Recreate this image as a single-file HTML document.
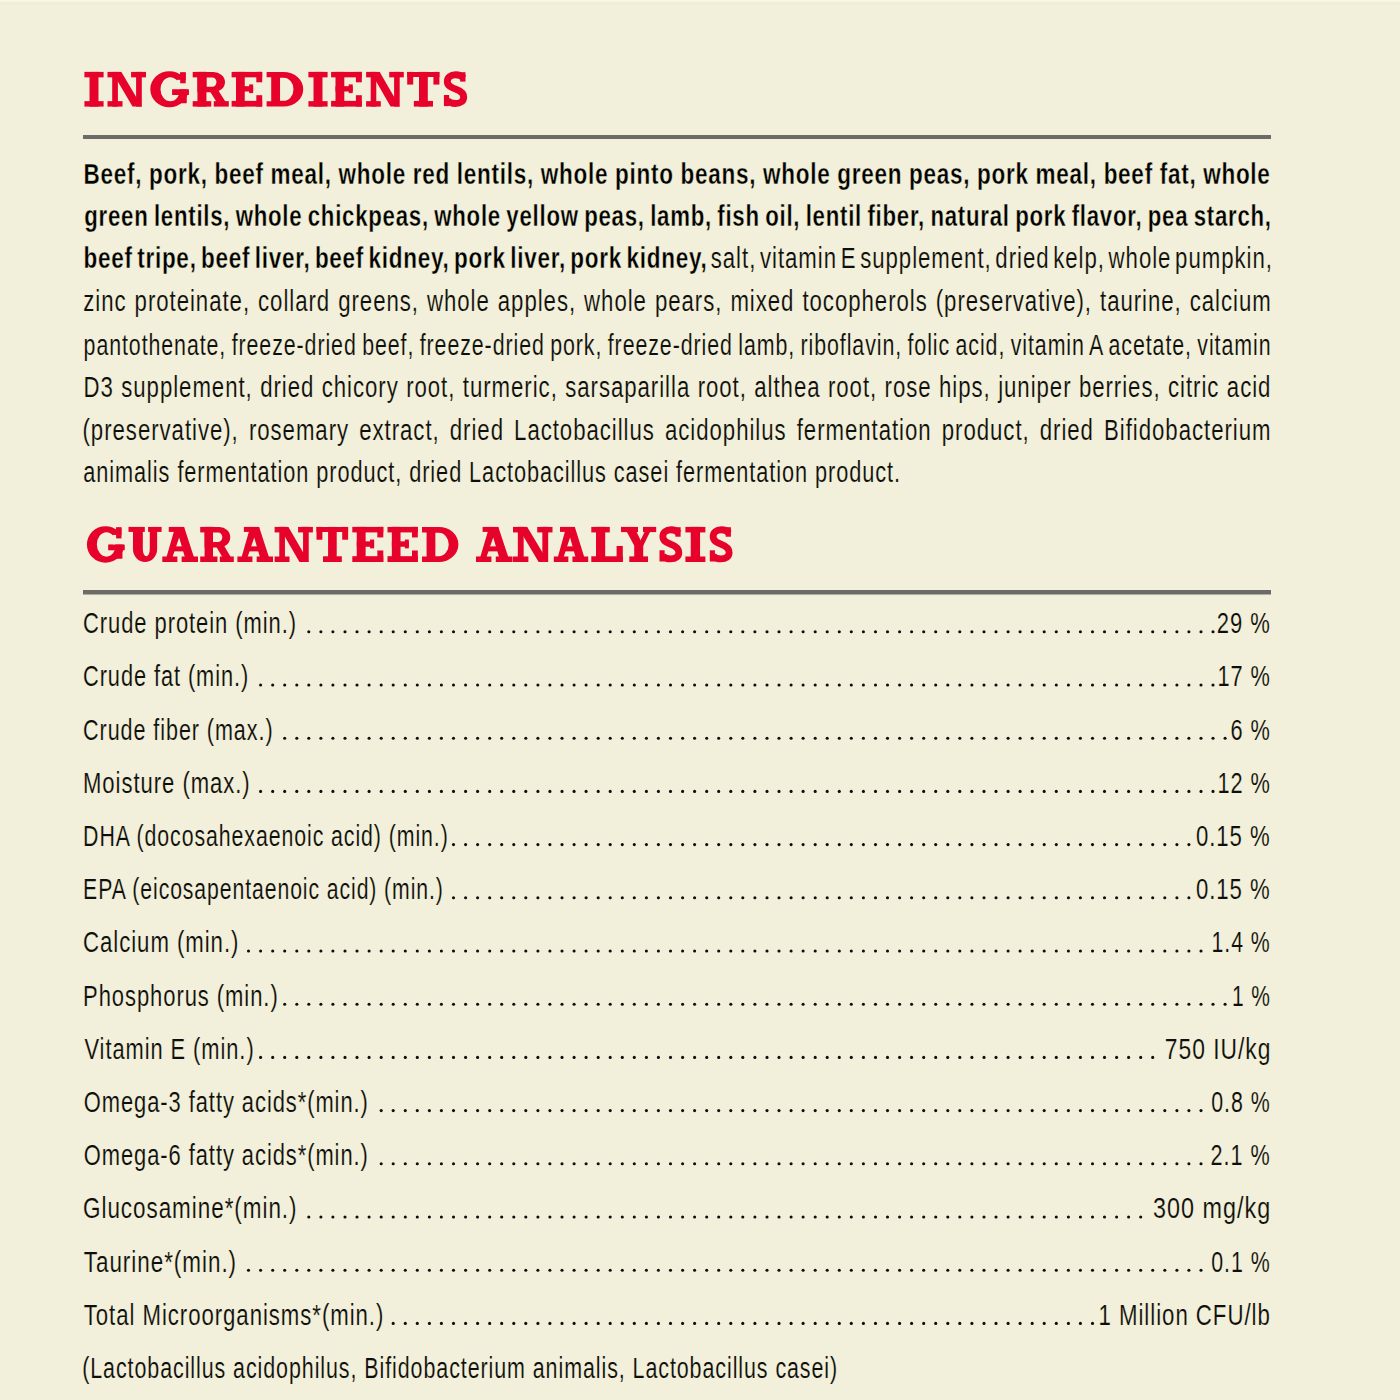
<!DOCTYPE html><html><head><meta charset="utf-8"><style>html,body{margin:0;padding:0;background:#f2f0da;width:1400px;height:1400px;overflow:hidden}svg{display:block}</style></head><body>
<svg width="1400" height="1400" viewBox="0 0 1400 1400">
<rect width="1400" height="1400" fill="#f2f0da"/>
<rect y="0" width="1400" height="1" fill="#fbf9e2"/><rect y="1" width="1400" height="1" fill="#f6f4df"/><rect y="3" width="1400" height="1" fill="#efedd9"/>
<rect x="83" y="135" width="1188" height="4" fill="#6b6b67"/>
<rect x="83" y="590" width="1188" height="4.5" fill="#6b6b67"/>
<g transform="translate(84.40 71.90) scale(0.9846 0.9914)"><path d="M0 0H19.5V5.5H0Z" fill="#e6022a"/><path d="M5.2 0H14.3V35H5.2Z" fill="#e6022a"/><path d="M0 29.5H19.5V35H0Z" fill="#e6022a"/></g>
<g transform="translate(107.50 71.90) scale(1.0000 0.9914)"><path d="M0 0H13.7V5.5H0Z" fill="#e6022a"/><path d="M4.7 0H10.4V35H4.7Z" fill="#e6022a"/><path d="M0 29.5H15.0V35H0Z" fill="#e6022a"/><path d="M4.7 0 L13.9 0 L34.3 35 L25.0 35Z" fill="#e6022a"/><path d="M23.6 0H38.5V5.5H23.6Z" fill="#e6022a"/><path d="M28.6 0H34.3V35H28.6Z" fill="#e6022a"/></g>
<g transform="translate(150.30 71.90) scale(1.0000 0.9914)"><path d="M29.9 0.5H35.4V11.5H29.9Z" fill="#e6022a"/><path d="M22.0 17.7H38.5V23.2H22.0Z" fill="#e6022a"/><path d="M29.0 17.7H36.2V31.5H29.0Z" fill="#e6022a"/><path d="M0 17.5A19 18.2 0 1 0 38 17.5A19 18.2 0 1 0 0 17.5Z M10.2 17.5A9.8 12.2 0 1 0 29.8 17.5A9.8 12.2 0 1 0 10.2 17.5Z" fill="#e6022a" fill-rule="evenodd"/><path d="M26.5 8.0H39.0V17.7H26.5Z" fill="#f2f0da"/><path d="M29.9 0.5H35.4V11.5H29.9Z" fill="#e6022a"/><path d="M22.0 17.7H38.5V23.2H22.0Z" fill="#e6022a"/><path d="M29.0 17.7H36.2V31.5H29.0Z" fill="#e6022a"/></g>
<g transform="translate(192.70 71.90) scale(1.0028 0.9914)"><path d="M0 0H13.7V5.5H0Z" fill="#e6022a"/><path d="M4.7 0H13.7V35H4.7Z" fill="#e6022a"/><path d="M0 29.5H18.5V35H0Z" fill="#e6022a"/><path d="M15.5 17.0 L24.5 17.0 L33.0 30.5 L24.0 30.5Z" fill="#e6022a"/><path d="M21.0 29.5H36.0V35H21.0Z" fill="#e6022a"/><path d="M4.7 0H20.5A11.7 10.3 0 0 1 20.5 20.6H4.7Z M13.7 5.6H19.5A4.2 4.7 0 0 1 19.5 15H13.7Z" fill="#e6022a" fill-rule="evenodd"/></g>
<g transform="translate(231.60 71.90) scale(0.9967 0.9914)"><path d="M0 0H30.7V5.5H0Z" fill="#e6022a"/><path d="M24.8 0H30.7V10.5H24.8Z" fill="#e6022a"/><path d="M4.4 0H13.2V35H4.4Z" fill="#e6022a"/><path d="M4.4 14.4H21.6V19.8H4.4Z" fill="#e6022a"/><path d="M17.6 12.6H21.6V21.4H17.6Z" fill="#e6022a"/><path d="M0 29.2H30.7V35H0Z" fill="#e6022a"/><path d="M24.8 23.5H30.7V35H24.8Z" fill="#e6022a"/></g>
<g transform="translate(266.60 71.90) scale(1.0027 0.9914)"><path d="M0 0H17A19.5 17.5 0 0 1 17 35H0V29.5H4.6V5.5H0Z M13.4 5.8H17A9.8 11.7 0 0 1 17 29.2H13.4Z" fill="#e6022a" fill-rule="evenodd"/></g>
<g transform="translate(308.40 71.90) scale(0.9846 0.9914)"><path d="M0 0H19.5V5.5H0Z" fill="#e6022a"/><path d="M5.2 0H14.3V35H5.2Z" fill="#e6022a"/><path d="M0 29.5H19.5V35H0Z" fill="#e6022a"/></g>
<g transform="translate(331.10 71.90) scale(1.0000 0.9914)"><path d="M0 0H30.7V5.5H0Z" fill="#e6022a"/><path d="M24.8 0H30.7V10.5H24.8Z" fill="#e6022a"/><path d="M4.4 0H13.2V35H4.4Z" fill="#e6022a"/><path d="M4.4 14.4H21.6V19.8H4.4Z" fill="#e6022a"/><path d="M17.6 12.6H21.6V21.4H17.6Z" fill="#e6022a"/><path d="M0 29.2H30.7V35H0Z" fill="#e6022a"/><path d="M24.8 23.5H30.7V35H24.8Z" fill="#e6022a"/></g>
<g transform="translate(366.10 71.90) scale(0.9792 0.9914)"><path d="M0 0H13.7V5.5H0Z" fill="#e6022a"/><path d="M4.7 0H10.4V35H4.7Z" fill="#e6022a"/><path d="M0 29.5H15.0V35H0Z" fill="#e6022a"/><path d="M4.7 0 L13.9 0 L34.3 35 L25.0 35Z" fill="#e6022a"/><path d="M23.6 0H38.5V5.5H23.6Z" fill="#e6022a"/><path d="M28.6 0H34.3V35H28.6Z" fill="#e6022a"/></g>
<g transform="translate(407.20 71.90) scale(1.0000 0.9914)"><path d="M0 0H32.2V5.2H0Z" fill="#e6022a"/><path d="M0 0H6.0V12.8H0Z" fill="#e6022a"/><path d="M26.2 0H32.2V12.8H26.2Z" fill="#e6022a"/><path d="M11.8 0H20.6V35H11.8Z" fill="#e6022a"/><path d="M6.6 29.3H25.8V35H6.6Z" fill="#e6022a"/></g>
<g transform="translate(443.70 71.90) scale(1.0086 0.9914)"><path d="M16.3 0.3H21.6V9.8H16.3Z" fill="#e6022a"/><path d="M0.2 23.3H5.4V34.5H0.2Z" fill="#e6022a"/><path d="M19.5 6.2C17.5 3.5 15 2.9 11.8 2.9C6.8 2.9 3.6 5.6 3.6 9.6C3.6 14.4 8.2 16.1 12.2 17.5C16.6 19.1 19.8 21.1 19.8 25.5C19.8 29.6 16.5 31.9 11.5 31.9C8.2 31.9 5.4 30.9 3.4 28.8" fill="none" stroke="#e6022a" stroke-width="6.9"/></g>
<g transform="translate(86.90 526.90) scale(0.9766 1.0029)"><path d="M29.9 0.5H35.4V11.5H29.9Z" fill="#e6022a"/><path d="M22.0 17.7H38.5V23.2H22.0Z" fill="#e6022a"/><path d="M29.0 17.7H36.2V31.5H29.0Z" fill="#e6022a"/><path d="M0 17.5A19 18.2 0 1 0 38 17.5A19 18.2 0 1 0 0 17.5Z M10.2 17.5A9.8 12.2 0 1 0 29.8 17.5A9.8 12.2 0 1 0 10.2 17.5Z" fill="#e6022a" fill-rule="evenodd"/><path d="M26.5 8.0H39.0V17.7H26.5Z" fill="#f2f0da"/><path d="M29.9 0.5H35.4V11.5H29.9Z" fill="#e6022a"/><path d="M22.0 17.7H38.5V23.2H22.0Z" fill="#e6022a"/><path d="M29.0 17.7H36.2V31.5H29.0Z" fill="#e6022a"/></g>
<g transform="translate(128.50 526.90) scale(0.9940 1.0029)"><path d="M0 0H16.4V5.0H0Z" fill="#e6022a"/><path d="M19.7 0H33.3V5.0H19.7Z" fill="#e6022a"/><path d="M4.5 0V22A12.15 13 0 0 0 28.8 22V0H21.4V22A3.5 7.3 0 0 1 14.4 22V0Z" fill="#e6022a" fill-rule="evenodd"/></g>
<g transform="translate(162.30 526.90) scale(0.9917 1.0029)"><path d="M6.5 0H22.0V5.0H6.5Z" fill="#e6022a"/><path d="M2.8 35 L13.0 0 L22.0 0 L33.5 35 L24.2 35 L17.0 10.5 L8.6 35Z" fill="#e6022a"/><path d="M9.5 19.4H27.5V24.4H9.5Z" fill="#e6022a"/><path d="M0 29.5H15.2V35H0Z" fill="#e6022a"/><path d="M19.5 29.5H36.0V35H19.5Z" fill="#e6022a"/></g>
<g transform="translate(200.20 526.90) scale(0.9333 1.0029)"><path d="M0 0H13.7V5.5H0Z" fill="#e6022a"/><path d="M4.7 0H13.7V35H4.7Z" fill="#e6022a"/><path d="M0 29.5H18.5V35H0Z" fill="#e6022a"/><path d="M15.5 17.0 L24.5 17.0 L33.0 30.5 L24.0 30.5Z" fill="#e6022a"/><path d="M21.0 29.5H36.0V35H21.0Z" fill="#e6022a"/><path d="M4.7 0H20.5A11.7 10.3 0 0 1 20.5 20.6H4.7Z M13.7 5.6H19.5A4.2 4.7 0 0 1 19.5 15H13.7Z" fill="#e6022a" fill-rule="evenodd"/></g>
<g transform="translate(237.40 526.90) scale(0.9889 1.0029)"><path d="M6.5 0H22.0V5.0H6.5Z" fill="#e6022a"/><path d="M2.8 35 L13.0 0 L22.0 0 L33.5 35 L24.2 35 L17.0 10.5 L8.6 35Z" fill="#e6022a"/><path d="M9.5 19.4H27.5V24.4H9.5Z" fill="#e6022a"/><path d="M0 29.5H15.2V35H0Z" fill="#e6022a"/><path d="M19.5 29.5H36.0V35H19.5Z" fill="#e6022a"/></g>
<g transform="translate(274.60 526.90) scale(0.9948 1.0029)"><path d="M0 0H13.7V5.5H0Z" fill="#e6022a"/><path d="M4.7 0H10.4V35H4.7Z" fill="#e6022a"/><path d="M0 29.5H15.0V35H0Z" fill="#e6022a"/><path d="M4.7 0 L13.9 0 L34.3 35 L25.0 35Z" fill="#e6022a"/><path d="M23.6 0H38.5V5.5H23.6Z" fill="#e6022a"/><path d="M28.6 0H34.3V35H28.6Z" fill="#e6022a"/></g>
<g transform="translate(316.50 526.90) scale(0.9814 1.0029)"><path d="M0 0H32.2V5.2H0Z" fill="#e6022a"/><path d="M0 0H6.0V12.8H0Z" fill="#e6022a"/><path d="M26.2 0H32.2V12.8H26.2Z" fill="#e6022a"/><path d="M11.8 0H20.6V35H11.8Z" fill="#e6022a"/><path d="M6.6 29.3H25.8V35H6.6Z" fill="#e6022a"/></g>
<g transform="translate(352.30 526.90) scale(1.0098 1.0029)"><path d="M0 0H30.7V5.5H0Z" fill="#e6022a"/><path d="M24.8 0H30.7V10.5H24.8Z" fill="#e6022a"/><path d="M4.4 0H13.2V35H4.4Z" fill="#e6022a"/><path d="M4.4 14.4H21.6V19.8H4.4Z" fill="#e6022a"/><path d="M17.6 12.6H21.6V21.4H17.6Z" fill="#e6022a"/><path d="M0 29.2H30.7V35H0Z" fill="#e6022a"/><path d="M24.8 23.5H30.7V35H24.8Z" fill="#e6022a"/></g>
<g transform="translate(387.50 526.90) scale(0.9870 1.0029)"><path d="M0 0H30.7V5.5H0Z" fill="#e6022a"/><path d="M24.8 0H30.7V10.5H24.8Z" fill="#e6022a"/><path d="M4.4 0H13.2V35H4.4Z" fill="#e6022a"/><path d="M4.4 14.4H21.6V19.8H4.4Z" fill="#e6022a"/><path d="M17.6 12.6H21.6V21.4H17.6Z" fill="#e6022a"/><path d="M0 29.2H30.7V35H0Z" fill="#e6022a"/><path d="M24.8 23.5H30.7V35H24.8Z" fill="#e6022a"/></g>
<g transform="translate(422.00 526.90) scale(0.9973 1.0029)"><path d="M0 0H17A19.5 17.5 0 0 1 17 35H0V29.5H4.6V5.5H0Z M13.4 5.8H17A9.8 11.7 0 0 1 17 29.2H13.4Z" fill="#e6022a" fill-rule="evenodd"/></g>
<g transform="translate(476.00 526.90) scale(1.0139 1.0029)"><path d="M6.5 0H22.0V5.0H6.5Z" fill="#e6022a"/><path d="M2.8 35 L13.0 0 L22.0 0 L33.5 35 L24.2 35 L17.0 10.5 L8.6 35Z" fill="#e6022a"/><path d="M9.5 19.4H27.5V24.4H9.5Z" fill="#e6022a"/><path d="M0 29.5H15.2V35H0Z" fill="#e6022a"/><path d="M19.5 29.5H36.0V35H19.5Z" fill="#e6022a"/></g>
<g transform="translate(513.00 526.90) scale(1.0260 1.0029)"><path d="M0 0H13.7V5.5H0Z" fill="#e6022a"/><path d="M4.7 0H10.4V35H4.7Z" fill="#e6022a"/><path d="M0 29.5H15.0V35H0Z" fill="#e6022a"/><path d="M4.7 0 L13.9 0 L34.3 35 L25.0 35Z" fill="#e6022a"/><path d="M23.6 0H38.5V5.5H23.6Z" fill="#e6022a"/><path d="M28.6 0H34.3V35H28.6Z" fill="#e6022a"/></g>
<g transform="translate(553.80 526.90) scale(0.9556 1.0029)"><path d="M6.5 0H22.0V5.0H6.5Z" fill="#e6022a"/><path d="M2.8 35 L13.0 0 L22.0 0 L33.5 35 L24.2 35 L17.0 10.5 L8.6 35Z" fill="#e6022a"/><path d="M9.5 19.4H27.5V24.4H9.5Z" fill="#e6022a"/><path d="M0 29.5H15.2V35H0Z" fill="#e6022a"/><path d="M19.5 29.5H36.0V35H19.5Z" fill="#e6022a"/></g>
<g transform="translate(591.30 526.90) scale(1.0000 1.0029)"><path d="M0 0H18.5V5.5H0Z" fill="#e6022a"/><path d="M4.7 0H13.9V35H4.7Z" fill="#e6022a"/><path d="M0 29.3H31.5V35H0Z" fill="#e6022a"/><path d="M25.3 19.0H31.5V35H25.3Z" fill="#e6022a"/></g>
<g transform="translate(621.00 526.90) scale(1.0000 1.0029)"><path d="M0 0H17.0V5.2H0Z" fill="#e6022a"/><path d="M22.0 0H35.2V5.2H22.0Z" fill="#e6022a"/><path d="M3.2 0 L13.2 0 L22.4 19.0 L13.4 19.0Z" fill="#e6022a"/><path d="M26.0 0 L31.5 0 L21.8 19.5 L16.5 19.5Z" fill="#e6022a"/><path d="M13.2 17.0H22.2V35H13.2Z" fill="#e6022a"/><path d="M8.3 29.4H27.0V35H8.3Z" fill="#e6022a"/></g>
<g transform="translate(659.30 526.90) scale(0.9871 1.0029)"><path d="M16.3 0.3H21.6V9.8H16.3Z" fill="#e6022a"/><path d="M0.2 23.3H5.4V34.5H0.2Z" fill="#e6022a"/><path d="M19.5 6.2C17.5 3.5 15 2.9 11.8 2.9C6.8 2.9 3.6 5.6 3.6 9.6C3.6 14.4 8.2 16.1 12.2 17.5C16.6 19.1 19.8 21.1 19.8 25.5C19.8 29.6 16.5 31.9 11.5 31.9C8.2 31.9 5.4 30.9 3.4 28.8" fill="none" stroke="#e6022a" stroke-width="6.9"/></g>
<g transform="translate(685.40 526.90) scale(1.0256 1.0029)"><path d="M0 0H19.5V5.5H0Z" fill="#e6022a"/><path d="M5.2 0H14.3V35H5.2Z" fill="#e6022a"/><path d="M0 29.5H19.5V35H0Z" fill="#e6022a"/></g>
<g transform="translate(709.60 526.90) scale(0.9871 1.0029)"><path d="M16.3 0.3H21.6V9.8H16.3Z" fill="#e6022a"/><path d="M0.2 23.3H5.4V34.5H0.2Z" fill="#e6022a"/><path d="M19.5 6.2C17.5 3.5 15 2.9 11.8 2.9C6.8 2.9 3.6 5.6 3.6 9.6C3.6 14.4 8.2 16.1 12.2 17.5C16.6 19.1 19.8 21.1 19.8 25.5C19.8 29.6 16.5 31.9 11.5 31.9C8.2 31.9 5.4 30.9 3.4 28.8" fill="none" stroke="#e6022a" stroke-width="6.9"/></g>
<text transform="translate(83.50 183.60) scale(0.7500 1)" style="font-family:'Liberation Sans', sans-serif;font-weight:bold;font-size:30px;white-space:pre;letter-spacing:1.0px;word-spacing:-0.29px" fill="#000000" stroke="#f2f0da" stroke-width="0.35">Beef, pork, beef meal, whole red lentils, whole pinto beans, whole green peas, pork meal, beef fat, whole</text>
<text transform="translate(84.26 225.80) scale(0.7411 1)" style="font-family:'Liberation Sans', sans-serif;font-weight:bold;font-size:30px;white-space:pre;letter-spacing:1.0px;word-spacing:-2.00px" fill="#000000" stroke="#f2f0da" stroke-width="0.35">green lentils, whole chickpeas, whole yellow peas, lamb, fish oil, lentil fiber, natural pork flavor, pea starch,</text>
<text transform="translate(83.50 268.40) scale(0.7500 1)" style="font-family:'Liberation Sans', sans-serif;font-weight:bold;font-size:30px;white-space:pre;letter-spacing:1.0px;word-spacing:-3.44px" fill="#000000" stroke="#f2f0da" stroke-width="0.35">beef tripe, beef liver, beef kidney, pork liver, pork kidney,</text>
<text transform="translate(710.76 268.40) scale(0.7399 1)" style="font-family:'Liberation Sans', sans-serif;font-weight:normal;font-size:30px;white-space:pre;letter-spacing:1.3px;word-spacing:-4.60px" fill="#0e0e0c" stroke="#f2f0da" stroke-width="0.15">salt, vitamin E supplement, dried kelp, whole pumpkin,</text>
<text transform="translate(83.26 311.40) scale(0.7400 1)" style="font-family:'Liberation Sans', sans-serif;font-weight:normal;font-size:30px;white-space:pre;letter-spacing:1.3px;word-spacing:1.23px" fill="#0e0e0c" stroke="#f2f0da" stroke-width="0.15">zinc proteinate, collard greens, whole apples, whole pears, mixed tocopherols (preservative), taurine, calcium</text>
<text transform="translate(83.58 354.60) scale(0.7121 1)" style="font-family:'Liberation Sans', sans-serif;font-weight:normal;font-size:30px;white-space:pre;letter-spacing:1.3px;word-spacing:-2.00px" fill="#0e0e0c" stroke="#f2f0da" stroke-width="0.15">pantothenate, freeze-dried beef, freeze-dried pork, freeze-dried lamb, riboflavin, folic acid, vitamin A acetate, vitamin</text>
<text transform="translate(83.52 397.40) scale(0.7400 1)" style="font-family:'Liberation Sans', sans-serif;font-weight:normal;font-size:30px;white-space:pre;letter-spacing:1.3px;word-spacing:0.42px" fill="#0e0e0c" stroke="#f2f0da" stroke-width="0.15">D3 supplement, dried chicory root, turmeric, sarsaparilla root, althea root, rose hips, juniper berries, citric acid</text>
<text transform="translate(82.52 439.60) scale(0.7400 1)" style="font-family:'Liberation Sans', sans-serif;font-weight:normal;font-size:30px;white-space:pre;letter-spacing:1.3px;word-spacing:4.08px" fill="#0e0e0c" stroke="#f2f0da" stroke-width="0.15">(preservative), rosemary extract, dried Lactobacillus acidophilus fermentation product, dried Bifidobacterium</text>
<text transform="translate(83.28 481.90) scale(0.7238 1)" style="font-family:'Liberation Sans', sans-serif;font-weight:normal;font-size:30px;white-space:pre;letter-spacing:1.3px" fill="#0e0e0c" stroke="#f2f0da" stroke-width="0.15">animalis fermentation product, dried Lactobacillus casei fermentation product.</text>
<text transform="translate(83.04 633.10) scale(0.7309 1)" style="font-family:'Liberation Sans', sans-serif;font-weight:normal;font-size:30px;white-space:pre;letter-spacing:1.3px" fill="#0e0e0c" stroke="#f2f0da" stroke-width="0.15">Crude protein (min.)</text>
<text transform="translate(1216.83 633.10) scale(0.7348 1)" style="font-family:'Liberation Sans', sans-serif;font-weight:normal;font-size:30px;white-space:pre;letter-spacing:1.3px" fill="#0e0e0c" stroke="#f2f0da" stroke-width="0.15">29 %</text>
<text transform="translate(83.05 686.30) scale(0.7250 1)" style="font-family:'Liberation Sans', sans-serif;font-weight:normal;font-size:30px;white-space:pre;letter-spacing:1.3px" fill="#0e0e0c" stroke="#f2f0da" stroke-width="0.15">Crude fat (min.)</text>
<text transform="translate(1217.45 686.30) scale(0.7261 1)" style="font-family:'Liberation Sans', sans-serif;font-weight:normal;font-size:30px;white-space:pre;letter-spacing:1.3px" fill="#0e0e0c" stroke="#f2f0da" stroke-width="0.15">17 %</text>
<text transform="translate(83.06 739.50) scale(0.7188 1)" style="font-family:'Liberation Sans', sans-serif;font-weight:normal;font-size:30px;white-space:pre;letter-spacing:1.3px" fill="#0e0e0c" stroke="#f2f0da" stroke-width="0.15">Crude fiber (max.)</text>
<text transform="translate(1230.55 739.50) scale(0.7255 1)" style="font-family:'Liberation Sans', sans-serif;font-weight:normal;font-size:30px;white-space:pre;letter-spacing:1.3px" fill="#0e0e0c" stroke="#f2f0da" stroke-width="0.15">6 %</text>
<text transform="translate(83.03 792.70) scale(0.7359 1)" style="font-family:'Liberation Sans', sans-serif;font-weight:normal;font-size:30px;white-space:pre;letter-spacing:1.3px" fill="#0e0e0c" stroke="#f2f0da" stroke-width="0.15">Moisture (max.)</text>
<text transform="translate(1217.45 792.70) scale(0.7261 1)" style="font-family:'Liberation Sans', sans-serif;font-weight:normal;font-size:30px;white-space:pre;letter-spacing:1.3px" fill="#0e0e0c" stroke="#f2f0da" stroke-width="0.15">12 %</text>
<text transform="translate(83.08 845.90) scale(0.7104 1)" style="font-family:'Liberation Sans', sans-serif;font-weight:normal;font-size:30px;white-space:pre;letter-spacing:1.3px" fill="#0e0e0c" stroke="#f2f0da" stroke-width="0.15">DHA (docosahexaenoic acid) (min.)</text>
<text transform="translate(1195.96 845.90) scale(0.7378 1)" style="font-family:'Liberation Sans', sans-serif;font-weight:normal;font-size:30px;white-space:pre;letter-spacing:1.3px" fill="#0e0e0c" stroke="#f2f0da" stroke-width="0.15">0.15 %</text>
<text transform="translate(83.09 899.10) scale(0.7067 1)" style="font-family:'Liberation Sans', sans-serif;font-weight:normal;font-size:30px;white-space:pre;letter-spacing:1.3px" fill="#0e0e0c" stroke="#f2f0da" stroke-width="0.15">EPA (eicosapentaenoic acid) (min.)</text>
<text transform="translate(1195.96 899.10) scale(0.7378 1)" style="font-family:'Liberation Sans', sans-serif;font-weight:normal;font-size:30px;white-space:pre;letter-spacing:1.3px" fill="#0e0e0c" stroke="#f2f0da" stroke-width="0.15">0.15 %</text>
<text transform="translate(83.02 952.30) scale(0.7393 1)" style="font-family:'Liberation Sans', sans-serif;font-weight:normal;font-size:30px;white-space:pre;letter-spacing:1.3px" fill="#0e0e0c" stroke="#f2f0da" stroke-width="0.15">Calcium (min.)</text>
<text transform="translate(1211.58 952.30) scale(0.7089 1)" style="font-family:'Liberation Sans', sans-serif;font-weight:normal;font-size:30px;white-space:pre;letter-spacing:1.3px" fill="#0e0e0c" stroke="#f2f0da" stroke-width="0.15">1.4 %</text>
<text transform="translate(83.04 1005.50) scale(0.7324 1)" style="font-family:'Liberation Sans', sans-serif;font-weight:normal;font-size:30px;white-space:pre;letter-spacing:1.3px" fill="#0e0e0c" stroke="#f2f0da" stroke-width="0.15">Phosphorus (min.)</text>
<text transform="translate(1231.90 1005.50) scale(0.7000 1)" style="font-family:'Liberation Sans', sans-serif;font-weight:normal;font-size:30px;white-space:pre;letter-spacing:1.3px" fill="#0e0e0c" stroke="#f2f0da" stroke-width="0.15">1 %</text>
<text transform="translate(84.50 1058.70) scale(0.7283 1)" style="font-family:'Liberation Sans', sans-serif;font-weight:normal;font-size:30px;white-space:pre;letter-spacing:1.3px" fill="#0e0e0c" stroke="#f2f0da" stroke-width="0.15">Vitamin E (min.)</text>
<text transform="translate(1164.78 1058.70) scale(0.7607 1)" style="font-family:'Liberation Sans', sans-serif;font-weight:normal;font-size:30px;white-space:pre;letter-spacing:1.3px" fill="#0e0e0c" stroke="#f2f0da" stroke-width="0.15">750 IU/kg</text>
<text transform="translate(83.77 1111.90) scale(0.7303 1)" style="font-family:'Liberation Sans', sans-serif;font-weight:normal;font-size:30px;white-space:pre;letter-spacing:1.3px" fill="#0e0e0c" stroke="#f2f0da" stroke-width="0.15">Omega-3 fatty acids*(min.)</text>
<text transform="translate(1211.29 1111.90) scale(0.7125 1)" style="font-family:'Liberation Sans', sans-serif;font-weight:normal;font-size:30px;white-space:pre;letter-spacing:1.3px" fill="#0e0e0c" stroke="#f2f0da" stroke-width="0.15">0.8 %</text>
<text transform="translate(83.77 1165.10) scale(0.7303 1)" style="font-family:'Liberation Sans', sans-serif;font-weight:normal;font-size:30px;white-space:pre;letter-spacing:1.3px" fill="#0e0e0c" stroke="#f2f0da" stroke-width="0.15">Omega-6 fatty acids*(min.)</text>
<text transform="translate(1210.56 1165.10) scale(0.7215 1)" style="font-family:'Liberation Sans', sans-serif;font-weight:normal;font-size:30px;white-space:pre;letter-spacing:1.3px" fill="#0e0e0c" stroke="#f2f0da" stroke-width="0.15">2.1 %</text>
<text transform="translate(83.00 1218.30) scale(0.7482 1)" style="font-family:'Liberation Sans', sans-serif;font-weight:normal;font-size:30px;white-space:pre;letter-spacing:1.3px" fill="#0e0e0c" stroke="#f2f0da" stroke-width="0.15">Glucosamine*(min.)</text>
<text transform="translate(1153.02 1218.30) scale(0.7784 1)" style="font-family:'Liberation Sans', sans-serif;font-weight:normal;font-size:30px;white-space:pre;letter-spacing:1.3px" fill="#0e0e0c" stroke="#f2f0da" stroke-width="0.15">300 mg/kg</text>
<text transform="translate(83.75 1271.50) scale(0.7483 1)" style="font-family:'Liberation Sans', sans-serif;font-weight:normal;font-size:30px;white-space:pre;letter-spacing:1.3px" fill="#0e0e0c" stroke="#f2f0da" stroke-width="0.15">Taurine*(min.)</text>
<text transform="translate(1211.29 1271.50) scale(0.7125 1)" style="font-family:'Liberation Sans', sans-serif;font-weight:normal;font-size:30px;white-space:pre;letter-spacing:1.3px" fill="#0e0e0c" stroke="#f2f0da" stroke-width="0.15">0.1 %</text>
<text transform="translate(83.76 1324.70) scale(0.7392 1)" style="font-family:'Liberation Sans', sans-serif;font-weight:normal;font-size:30px;white-space:pre;letter-spacing:1.3px" fill="#0e0e0c" stroke="#f2f0da" stroke-width="0.15">Total Microorganisms*(min.)</text>
<text transform="translate(1098.52 1324.70) scale(0.7412 1)" style="font-family:'Liberation Sans', sans-serif;font-weight:normal;font-size:30px;white-space:pre;letter-spacing:1.3px" fill="#0e0e0c" stroke="#f2f0da" stroke-width="0.15">1 Million CFU/lb</text>
<text transform="translate(82.17 1377.90) scale(0.7145 1)" style="font-family:'Liberation Sans', sans-serif;font-weight:normal;font-size:30px;white-space:pre;letter-spacing:1.3px" fill="#0e0e0c" stroke="#f2f0da" stroke-width="0.15">(Lactobacillus acidophilus, Bifidobacterium animalis, Lactobacillus casei)</text>
<circle cx="308.8" cy="631.8" r="1.55" fill="#0e0e0c"/>
<circle cx="320.9" cy="631.8" r="1.55" fill="#0e0e0c"/>
<circle cx="332.9" cy="631.8" r="1.55" fill="#0e0e0c"/>
<circle cx="345.0" cy="631.8" r="1.55" fill="#0e0e0c"/>
<circle cx="357.0" cy="631.8" r="1.55" fill="#0e0e0c"/>
<circle cx="369.1" cy="631.8" r="1.55" fill="#0e0e0c"/>
<circle cx="381.2" cy="631.8" r="1.55" fill="#0e0e0c"/>
<circle cx="393.2" cy="631.8" r="1.55" fill="#0e0e0c"/>
<circle cx="405.3" cy="631.8" r="1.55" fill="#0e0e0c"/>
<circle cx="417.3" cy="631.8" r="1.55" fill="#0e0e0c"/>
<circle cx="429.4" cy="631.8" r="1.55" fill="#0e0e0c"/>
<circle cx="441.4" cy="631.8" r="1.55" fill="#0e0e0c"/>
<circle cx="453.5" cy="631.8" r="1.55" fill="#0e0e0c"/>
<circle cx="465.6" cy="631.8" r="1.55" fill="#0e0e0c"/>
<circle cx="477.6" cy="631.8" r="1.55" fill="#0e0e0c"/>
<circle cx="489.7" cy="631.8" r="1.55" fill="#0e0e0c"/>
<circle cx="501.7" cy="631.8" r="1.55" fill="#0e0e0c"/>
<circle cx="513.8" cy="631.8" r="1.55" fill="#0e0e0c"/>
<circle cx="525.8" cy="631.8" r="1.55" fill="#0e0e0c"/>
<circle cx="537.9" cy="631.8" r="1.55" fill="#0e0e0c"/>
<circle cx="549.9" cy="631.8" r="1.55" fill="#0e0e0c"/>
<circle cx="562.0" cy="631.8" r="1.55" fill="#0e0e0c"/>
<circle cx="574.1" cy="631.8" r="1.55" fill="#0e0e0c"/>
<circle cx="586.1" cy="631.8" r="1.55" fill="#0e0e0c"/>
<circle cx="598.2" cy="631.8" r="1.55" fill="#0e0e0c"/>
<circle cx="610.2" cy="631.8" r="1.55" fill="#0e0e0c"/>
<circle cx="622.3" cy="631.8" r="1.55" fill="#0e0e0c"/>
<circle cx="634.3" cy="631.8" r="1.55" fill="#0e0e0c"/>
<circle cx="646.4" cy="631.8" r="1.55" fill="#0e0e0c"/>
<circle cx="658.4" cy="631.8" r="1.55" fill="#0e0e0c"/>
<circle cx="670.5" cy="631.8" r="1.55" fill="#0e0e0c"/>
<circle cx="682.6" cy="631.8" r="1.55" fill="#0e0e0c"/>
<circle cx="694.6" cy="631.8" r="1.55" fill="#0e0e0c"/>
<circle cx="706.7" cy="631.8" r="1.55" fill="#0e0e0c"/>
<circle cx="718.7" cy="631.8" r="1.55" fill="#0e0e0c"/>
<circle cx="730.8" cy="631.8" r="1.55" fill="#0e0e0c"/>
<circle cx="742.8" cy="631.8" r="1.55" fill="#0e0e0c"/>
<circle cx="754.9" cy="631.8" r="1.55" fill="#0e0e0c"/>
<circle cx="767.0" cy="631.8" r="1.55" fill="#0e0e0c"/>
<circle cx="779.0" cy="631.8" r="1.55" fill="#0e0e0c"/>
<circle cx="791.1" cy="631.8" r="1.55" fill="#0e0e0c"/>
<circle cx="803.1" cy="631.8" r="1.55" fill="#0e0e0c"/>
<circle cx="815.2" cy="631.8" r="1.55" fill="#0e0e0c"/>
<circle cx="827.2" cy="631.8" r="1.55" fill="#0e0e0c"/>
<circle cx="839.3" cy="631.8" r="1.55" fill="#0e0e0c"/>
<circle cx="851.3" cy="631.8" r="1.55" fill="#0e0e0c"/>
<circle cx="863.4" cy="631.8" r="1.55" fill="#0e0e0c"/>
<circle cx="875.5" cy="631.8" r="1.55" fill="#0e0e0c"/>
<circle cx="887.5" cy="631.8" r="1.55" fill="#0e0e0c"/>
<circle cx="899.6" cy="631.8" r="1.55" fill="#0e0e0c"/>
<circle cx="911.6" cy="631.8" r="1.55" fill="#0e0e0c"/>
<circle cx="923.7" cy="631.8" r="1.55" fill="#0e0e0c"/>
<circle cx="935.7" cy="631.8" r="1.55" fill="#0e0e0c"/>
<circle cx="947.8" cy="631.8" r="1.55" fill="#0e0e0c"/>
<circle cx="959.8" cy="631.8" r="1.55" fill="#0e0e0c"/>
<circle cx="971.9" cy="631.8" r="1.55" fill="#0e0e0c"/>
<circle cx="984.0" cy="631.8" r="1.55" fill="#0e0e0c"/>
<circle cx="996.0" cy="631.8" r="1.55" fill="#0e0e0c"/>
<circle cx="1008.1" cy="631.8" r="1.55" fill="#0e0e0c"/>
<circle cx="1020.1" cy="631.8" r="1.55" fill="#0e0e0c"/>
<circle cx="1032.2" cy="631.8" r="1.55" fill="#0e0e0c"/>
<circle cx="1044.2" cy="631.8" r="1.55" fill="#0e0e0c"/>
<circle cx="1056.3" cy="631.8" r="1.55" fill="#0e0e0c"/>
<circle cx="1068.4" cy="631.8" r="1.55" fill="#0e0e0c"/>
<circle cx="1080.4" cy="631.8" r="1.55" fill="#0e0e0c"/>
<circle cx="1092.5" cy="631.8" r="1.55" fill="#0e0e0c"/>
<circle cx="1104.5" cy="631.8" r="1.55" fill="#0e0e0c"/>
<circle cx="1116.6" cy="631.8" r="1.55" fill="#0e0e0c"/>
<circle cx="1128.6" cy="631.8" r="1.55" fill="#0e0e0c"/>
<circle cx="1140.7" cy="631.8" r="1.55" fill="#0e0e0c"/>
<circle cx="1152.7" cy="631.8" r="1.55" fill="#0e0e0c"/>
<circle cx="1164.8" cy="631.8" r="1.55" fill="#0e0e0c"/>
<circle cx="1176.9" cy="631.8" r="1.55" fill="#0e0e0c"/>
<circle cx="1188.9" cy="631.8" r="1.55" fill="#0e0e0c"/>
<circle cx="1201.0" cy="631.8" r="1.55" fill="#0e0e0c"/>
<circle cx="1213.0" cy="631.8" r="1.55" fill="#0e0e0c"/>
<circle cx="260.6" cy="685.0" r="1.55" fill="#0e0e0c"/>
<circle cx="272.7" cy="685.0" r="1.55" fill="#0e0e0c"/>
<circle cx="284.7" cy="685.0" r="1.55" fill="#0e0e0c"/>
<circle cx="296.8" cy="685.0" r="1.55" fill="#0e0e0c"/>
<circle cx="308.8" cy="685.0" r="1.55" fill="#0e0e0c"/>
<circle cx="320.9" cy="685.0" r="1.55" fill="#0e0e0c"/>
<circle cx="332.9" cy="685.0" r="1.55" fill="#0e0e0c"/>
<circle cx="345.0" cy="685.0" r="1.55" fill="#0e0e0c"/>
<circle cx="357.0" cy="685.0" r="1.55" fill="#0e0e0c"/>
<circle cx="369.1" cy="685.0" r="1.55" fill="#0e0e0c"/>
<circle cx="381.2" cy="685.0" r="1.55" fill="#0e0e0c"/>
<circle cx="393.2" cy="685.0" r="1.55" fill="#0e0e0c"/>
<circle cx="405.3" cy="685.0" r="1.55" fill="#0e0e0c"/>
<circle cx="417.3" cy="685.0" r="1.55" fill="#0e0e0c"/>
<circle cx="429.4" cy="685.0" r="1.55" fill="#0e0e0c"/>
<circle cx="441.4" cy="685.0" r="1.55" fill="#0e0e0c"/>
<circle cx="453.5" cy="685.0" r="1.55" fill="#0e0e0c"/>
<circle cx="465.6" cy="685.0" r="1.55" fill="#0e0e0c"/>
<circle cx="477.6" cy="685.0" r="1.55" fill="#0e0e0c"/>
<circle cx="489.7" cy="685.0" r="1.55" fill="#0e0e0c"/>
<circle cx="501.7" cy="685.0" r="1.55" fill="#0e0e0c"/>
<circle cx="513.8" cy="685.0" r="1.55" fill="#0e0e0c"/>
<circle cx="525.8" cy="685.0" r="1.55" fill="#0e0e0c"/>
<circle cx="537.9" cy="685.0" r="1.55" fill="#0e0e0c"/>
<circle cx="549.9" cy="685.0" r="1.55" fill="#0e0e0c"/>
<circle cx="562.0" cy="685.0" r="1.55" fill="#0e0e0c"/>
<circle cx="574.1" cy="685.0" r="1.55" fill="#0e0e0c"/>
<circle cx="586.1" cy="685.0" r="1.55" fill="#0e0e0c"/>
<circle cx="598.2" cy="685.0" r="1.55" fill="#0e0e0c"/>
<circle cx="610.2" cy="685.0" r="1.55" fill="#0e0e0c"/>
<circle cx="622.3" cy="685.0" r="1.55" fill="#0e0e0c"/>
<circle cx="634.3" cy="685.0" r="1.55" fill="#0e0e0c"/>
<circle cx="646.4" cy="685.0" r="1.55" fill="#0e0e0c"/>
<circle cx="658.4" cy="685.0" r="1.55" fill="#0e0e0c"/>
<circle cx="670.5" cy="685.0" r="1.55" fill="#0e0e0c"/>
<circle cx="682.6" cy="685.0" r="1.55" fill="#0e0e0c"/>
<circle cx="694.6" cy="685.0" r="1.55" fill="#0e0e0c"/>
<circle cx="706.7" cy="685.0" r="1.55" fill="#0e0e0c"/>
<circle cx="718.7" cy="685.0" r="1.55" fill="#0e0e0c"/>
<circle cx="730.8" cy="685.0" r="1.55" fill="#0e0e0c"/>
<circle cx="742.8" cy="685.0" r="1.55" fill="#0e0e0c"/>
<circle cx="754.9" cy="685.0" r="1.55" fill="#0e0e0c"/>
<circle cx="767.0" cy="685.0" r="1.55" fill="#0e0e0c"/>
<circle cx="779.0" cy="685.0" r="1.55" fill="#0e0e0c"/>
<circle cx="791.1" cy="685.0" r="1.55" fill="#0e0e0c"/>
<circle cx="803.1" cy="685.0" r="1.55" fill="#0e0e0c"/>
<circle cx="815.2" cy="685.0" r="1.55" fill="#0e0e0c"/>
<circle cx="827.2" cy="685.0" r="1.55" fill="#0e0e0c"/>
<circle cx="839.3" cy="685.0" r="1.55" fill="#0e0e0c"/>
<circle cx="851.3" cy="685.0" r="1.55" fill="#0e0e0c"/>
<circle cx="863.4" cy="685.0" r="1.55" fill="#0e0e0c"/>
<circle cx="875.5" cy="685.0" r="1.55" fill="#0e0e0c"/>
<circle cx="887.5" cy="685.0" r="1.55" fill="#0e0e0c"/>
<circle cx="899.6" cy="685.0" r="1.55" fill="#0e0e0c"/>
<circle cx="911.6" cy="685.0" r="1.55" fill="#0e0e0c"/>
<circle cx="923.7" cy="685.0" r="1.55" fill="#0e0e0c"/>
<circle cx="935.7" cy="685.0" r="1.55" fill="#0e0e0c"/>
<circle cx="947.8" cy="685.0" r="1.55" fill="#0e0e0c"/>
<circle cx="959.8" cy="685.0" r="1.55" fill="#0e0e0c"/>
<circle cx="971.9" cy="685.0" r="1.55" fill="#0e0e0c"/>
<circle cx="984.0" cy="685.0" r="1.55" fill="#0e0e0c"/>
<circle cx="996.0" cy="685.0" r="1.55" fill="#0e0e0c"/>
<circle cx="1008.1" cy="685.0" r="1.55" fill="#0e0e0c"/>
<circle cx="1020.1" cy="685.0" r="1.55" fill="#0e0e0c"/>
<circle cx="1032.2" cy="685.0" r="1.55" fill="#0e0e0c"/>
<circle cx="1044.2" cy="685.0" r="1.55" fill="#0e0e0c"/>
<circle cx="1056.3" cy="685.0" r="1.55" fill="#0e0e0c"/>
<circle cx="1068.4" cy="685.0" r="1.55" fill="#0e0e0c"/>
<circle cx="1080.4" cy="685.0" r="1.55" fill="#0e0e0c"/>
<circle cx="1092.5" cy="685.0" r="1.55" fill="#0e0e0c"/>
<circle cx="1104.5" cy="685.0" r="1.55" fill="#0e0e0c"/>
<circle cx="1116.6" cy="685.0" r="1.55" fill="#0e0e0c"/>
<circle cx="1128.6" cy="685.0" r="1.55" fill="#0e0e0c"/>
<circle cx="1140.7" cy="685.0" r="1.55" fill="#0e0e0c"/>
<circle cx="1152.7" cy="685.0" r="1.55" fill="#0e0e0c"/>
<circle cx="1164.8" cy="685.0" r="1.55" fill="#0e0e0c"/>
<circle cx="1176.9" cy="685.0" r="1.55" fill="#0e0e0c"/>
<circle cx="1188.9" cy="685.0" r="1.55" fill="#0e0e0c"/>
<circle cx="1201.0" cy="685.0" r="1.55" fill="#0e0e0c"/>
<circle cx="1213.0" cy="685.0" r="1.55" fill="#0e0e0c"/>
<circle cx="284.7" cy="738.2" r="1.55" fill="#0e0e0c"/>
<circle cx="296.8" cy="738.2" r="1.55" fill="#0e0e0c"/>
<circle cx="308.8" cy="738.2" r="1.55" fill="#0e0e0c"/>
<circle cx="320.9" cy="738.2" r="1.55" fill="#0e0e0c"/>
<circle cx="332.9" cy="738.2" r="1.55" fill="#0e0e0c"/>
<circle cx="345.0" cy="738.2" r="1.55" fill="#0e0e0c"/>
<circle cx="357.0" cy="738.2" r="1.55" fill="#0e0e0c"/>
<circle cx="369.1" cy="738.2" r="1.55" fill="#0e0e0c"/>
<circle cx="381.2" cy="738.2" r="1.55" fill="#0e0e0c"/>
<circle cx="393.2" cy="738.2" r="1.55" fill="#0e0e0c"/>
<circle cx="405.3" cy="738.2" r="1.55" fill="#0e0e0c"/>
<circle cx="417.3" cy="738.2" r="1.55" fill="#0e0e0c"/>
<circle cx="429.4" cy="738.2" r="1.55" fill="#0e0e0c"/>
<circle cx="441.4" cy="738.2" r="1.55" fill="#0e0e0c"/>
<circle cx="453.5" cy="738.2" r="1.55" fill="#0e0e0c"/>
<circle cx="465.6" cy="738.2" r="1.55" fill="#0e0e0c"/>
<circle cx="477.6" cy="738.2" r="1.55" fill="#0e0e0c"/>
<circle cx="489.7" cy="738.2" r="1.55" fill="#0e0e0c"/>
<circle cx="501.7" cy="738.2" r="1.55" fill="#0e0e0c"/>
<circle cx="513.8" cy="738.2" r="1.55" fill="#0e0e0c"/>
<circle cx="525.8" cy="738.2" r="1.55" fill="#0e0e0c"/>
<circle cx="537.9" cy="738.2" r="1.55" fill="#0e0e0c"/>
<circle cx="549.9" cy="738.2" r="1.55" fill="#0e0e0c"/>
<circle cx="562.0" cy="738.2" r="1.55" fill="#0e0e0c"/>
<circle cx="574.1" cy="738.2" r="1.55" fill="#0e0e0c"/>
<circle cx="586.1" cy="738.2" r="1.55" fill="#0e0e0c"/>
<circle cx="598.2" cy="738.2" r="1.55" fill="#0e0e0c"/>
<circle cx="610.2" cy="738.2" r="1.55" fill="#0e0e0c"/>
<circle cx="622.3" cy="738.2" r="1.55" fill="#0e0e0c"/>
<circle cx="634.3" cy="738.2" r="1.55" fill="#0e0e0c"/>
<circle cx="646.4" cy="738.2" r="1.55" fill="#0e0e0c"/>
<circle cx="658.4" cy="738.2" r="1.55" fill="#0e0e0c"/>
<circle cx="670.5" cy="738.2" r="1.55" fill="#0e0e0c"/>
<circle cx="682.6" cy="738.2" r="1.55" fill="#0e0e0c"/>
<circle cx="694.6" cy="738.2" r="1.55" fill="#0e0e0c"/>
<circle cx="706.7" cy="738.2" r="1.55" fill="#0e0e0c"/>
<circle cx="718.7" cy="738.2" r="1.55" fill="#0e0e0c"/>
<circle cx="730.8" cy="738.2" r="1.55" fill="#0e0e0c"/>
<circle cx="742.8" cy="738.2" r="1.55" fill="#0e0e0c"/>
<circle cx="754.9" cy="738.2" r="1.55" fill="#0e0e0c"/>
<circle cx="767.0" cy="738.2" r="1.55" fill="#0e0e0c"/>
<circle cx="779.0" cy="738.2" r="1.55" fill="#0e0e0c"/>
<circle cx="791.1" cy="738.2" r="1.55" fill="#0e0e0c"/>
<circle cx="803.1" cy="738.2" r="1.55" fill="#0e0e0c"/>
<circle cx="815.2" cy="738.2" r="1.55" fill="#0e0e0c"/>
<circle cx="827.2" cy="738.2" r="1.55" fill="#0e0e0c"/>
<circle cx="839.3" cy="738.2" r="1.55" fill="#0e0e0c"/>
<circle cx="851.3" cy="738.2" r="1.55" fill="#0e0e0c"/>
<circle cx="863.4" cy="738.2" r="1.55" fill="#0e0e0c"/>
<circle cx="875.5" cy="738.2" r="1.55" fill="#0e0e0c"/>
<circle cx="887.5" cy="738.2" r="1.55" fill="#0e0e0c"/>
<circle cx="899.6" cy="738.2" r="1.55" fill="#0e0e0c"/>
<circle cx="911.6" cy="738.2" r="1.55" fill="#0e0e0c"/>
<circle cx="923.7" cy="738.2" r="1.55" fill="#0e0e0c"/>
<circle cx="935.7" cy="738.2" r="1.55" fill="#0e0e0c"/>
<circle cx="947.8" cy="738.2" r="1.55" fill="#0e0e0c"/>
<circle cx="959.8" cy="738.2" r="1.55" fill="#0e0e0c"/>
<circle cx="971.9" cy="738.2" r="1.55" fill="#0e0e0c"/>
<circle cx="984.0" cy="738.2" r="1.55" fill="#0e0e0c"/>
<circle cx="996.0" cy="738.2" r="1.55" fill="#0e0e0c"/>
<circle cx="1008.1" cy="738.2" r="1.55" fill="#0e0e0c"/>
<circle cx="1020.1" cy="738.2" r="1.55" fill="#0e0e0c"/>
<circle cx="1032.2" cy="738.2" r="1.55" fill="#0e0e0c"/>
<circle cx="1044.2" cy="738.2" r="1.55" fill="#0e0e0c"/>
<circle cx="1056.3" cy="738.2" r="1.55" fill="#0e0e0c"/>
<circle cx="1068.4" cy="738.2" r="1.55" fill="#0e0e0c"/>
<circle cx="1080.4" cy="738.2" r="1.55" fill="#0e0e0c"/>
<circle cx="1092.5" cy="738.2" r="1.55" fill="#0e0e0c"/>
<circle cx="1104.5" cy="738.2" r="1.55" fill="#0e0e0c"/>
<circle cx="1116.6" cy="738.2" r="1.55" fill="#0e0e0c"/>
<circle cx="1128.6" cy="738.2" r="1.55" fill="#0e0e0c"/>
<circle cx="1140.7" cy="738.2" r="1.55" fill="#0e0e0c"/>
<circle cx="1152.7" cy="738.2" r="1.55" fill="#0e0e0c"/>
<circle cx="1164.8" cy="738.2" r="1.55" fill="#0e0e0c"/>
<circle cx="1176.9" cy="738.2" r="1.55" fill="#0e0e0c"/>
<circle cx="1188.9" cy="738.2" r="1.55" fill="#0e0e0c"/>
<circle cx="1201.0" cy="738.2" r="1.55" fill="#0e0e0c"/>
<circle cx="1213.0" cy="738.2" r="1.55" fill="#0e0e0c"/>
<circle cx="1225.1" cy="738.2" r="1.55" fill="#0e0e0c"/>
<circle cx="260.6" cy="791.4" r="1.55" fill="#0e0e0c"/>
<circle cx="272.7" cy="791.4" r="1.55" fill="#0e0e0c"/>
<circle cx="284.7" cy="791.4" r="1.55" fill="#0e0e0c"/>
<circle cx="296.8" cy="791.4" r="1.55" fill="#0e0e0c"/>
<circle cx="308.8" cy="791.4" r="1.55" fill="#0e0e0c"/>
<circle cx="320.9" cy="791.4" r="1.55" fill="#0e0e0c"/>
<circle cx="332.9" cy="791.4" r="1.55" fill="#0e0e0c"/>
<circle cx="345.0" cy="791.4" r="1.55" fill="#0e0e0c"/>
<circle cx="357.0" cy="791.4" r="1.55" fill="#0e0e0c"/>
<circle cx="369.1" cy="791.4" r="1.55" fill="#0e0e0c"/>
<circle cx="381.2" cy="791.4" r="1.55" fill="#0e0e0c"/>
<circle cx="393.2" cy="791.4" r="1.55" fill="#0e0e0c"/>
<circle cx="405.3" cy="791.4" r="1.55" fill="#0e0e0c"/>
<circle cx="417.3" cy="791.4" r="1.55" fill="#0e0e0c"/>
<circle cx="429.4" cy="791.4" r="1.55" fill="#0e0e0c"/>
<circle cx="441.4" cy="791.4" r="1.55" fill="#0e0e0c"/>
<circle cx="453.5" cy="791.4" r="1.55" fill="#0e0e0c"/>
<circle cx="465.6" cy="791.4" r="1.55" fill="#0e0e0c"/>
<circle cx="477.6" cy="791.4" r="1.55" fill="#0e0e0c"/>
<circle cx="489.7" cy="791.4" r="1.55" fill="#0e0e0c"/>
<circle cx="501.7" cy="791.4" r="1.55" fill="#0e0e0c"/>
<circle cx="513.8" cy="791.4" r="1.55" fill="#0e0e0c"/>
<circle cx="525.8" cy="791.4" r="1.55" fill="#0e0e0c"/>
<circle cx="537.9" cy="791.4" r="1.55" fill="#0e0e0c"/>
<circle cx="549.9" cy="791.4" r="1.55" fill="#0e0e0c"/>
<circle cx="562.0" cy="791.4" r="1.55" fill="#0e0e0c"/>
<circle cx="574.1" cy="791.4" r="1.55" fill="#0e0e0c"/>
<circle cx="586.1" cy="791.4" r="1.55" fill="#0e0e0c"/>
<circle cx="598.2" cy="791.4" r="1.55" fill="#0e0e0c"/>
<circle cx="610.2" cy="791.4" r="1.55" fill="#0e0e0c"/>
<circle cx="622.3" cy="791.4" r="1.55" fill="#0e0e0c"/>
<circle cx="634.3" cy="791.4" r="1.55" fill="#0e0e0c"/>
<circle cx="646.4" cy="791.4" r="1.55" fill="#0e0e0c"/>
<circle cx="658.4" cy="791.4" r="1.55" fill="#0e0e0c"/>
<circle cx="670.5" cy="791.4" r="1.55" fill="#0e0e0c"/>
<circle cx="682.6" cy="791.4" r="1.55" fill="#0e0e0c"/>
<circle cx="694.6" cy="791.4" r="1.55" fill="#0e0e0c"/>
<circle cx="706.7" cy="791.4" r="1.55" fill="#0e0e0c"/>
<circle cx="718.7" cy="791.4" r="1.55" fill="#0e0e0c"/>
<circle cx="730.8" cy="791.4" r="1.55" fill="#0e0e0c"/>
<circle cx="742.8" cy="791.4" r="1.55" fill="#0e0e0c"/>
<circle cx="754.9" cy="791.4" r="1.55" fill="#0e0e0c"/>
<circle cx="767.0" cy="791.4" r="1.55" fill="#0e0e0c"/>
<circle cx="779.0" cy="791.4" r="1.55" fill="#0e0e0c"/>
<circle cx="791.1" cy="791.4" r="1.55" fill="#0e0e0c"/>
<circle cx="803.1" cy="791.4" r="1.55" fill="#0e0e0c"/>
<circle cx="815.2" cy="791.4" r="1.55" fill="#0e0e0c"/>
<circle cx="827.2" cy="791.4" r="1.55" fill="#0e0e0c"/>
<circle cx="839.3" cy="791.4" r="1.55" fill="#0e0e0c"/>
<circle cx="851.3" cy="791.4" r="1.55" fill="#0e0e0c"/>
<circle cx="863.4" cy="791.4" r="1.55" fill="#0e0e0c"/>
<circle cx="875.5" cy="791.4" r="1.55" fill="#0e0e0c"/>
<circle cx="887.5" cy="791.4" r="1.55" fill="#0e0e0c"/>
<circle cx="899.6" cy="791.4" r="1.55" fill="#0e0e0c"/>
<circle cx="911.6" cy="791.4" r="1.55" fill="#0e0e0c"/>
<circle cx="923.7" cy="791.4" r="1.55" fill="#0e0e0c"/>
<circle cx="935.7" cy="791.4" r="1.55" fill="#0e0e0c"/>
<circle cx="947.8" cy="791.4" r="1.55" fill="#0e0e0c"/>
<circle cx="959.8" cy="791.4" r="1.55" fill="#0e0e0c"/>
<circle cx="971.9" cy="791.4" r="1.55" fill="#0e0e0c"/>
<circle cx="984.0" cy="791.4" r="1.55" fill="#0e0e0c"/>
<circle cx="996.0" cy="791.4" r="1.55" fill="#0e0e0c"/>
<circle cx="1008.1" cy="791.4" r="1.55" fill="#0e0e0c"/>
<circle cx="1020.1" cy="791.4" r="1.55" fill="#0e0e0c"/>
<circle cx="1032.2" cy="791.4" r="1.55" fill="#0e0e0c"/>
<circle cx="1044.2" cy="791.4" r="1.55" fill="#0e0e0c"/>
<circle cx="1056.3" cy="791.4" r="1.55" fill="#0e0e0c"/>
<circle cx="1068.4" cy="791.4" r="1.55" fill="#0e0e0c"/>
<circle cx="1080.4" cy="791.4" r="1.55" fill="#0e0e0c"/>
<circle cx="1092.5" cy="791.4" r="1.55" fill="#0e0e0c"/>
<circle cx="1104.5" cy="791.4" r="1.55" fill="#0e0e0c"/>
<circle cx="1116.6" cy="791.4" r="1.55" fill="#0e0e0c"/>
<circle cx="1128.6" cy="791.4" r="1.55" fill="#0e0e0c"/>
<circle cx="1140.7" cy="791.4" r="1.55" fill="#0e0e0c"/>
<circle cx="1152.7" cy="791.4" r="1.55" fill="#0e0e0c"/>
<circle cx="1164.8" cy="791.4" r="1.55" fill="#0e0e0c"/>
<circle cx="1176.9" cy="791.4" r="1.55" fill="#0e0e0c"/>
<circle cx="1188.9" cy="791.4" r="1.55" fill="#0e0e0c"/>
<circle cx="1201.0" cy="791.4" r="1.55" fill="#0e0e0c"/>
<circle cx="1213.0" cy="791.4" r="1.55" fill="#0e0e0c"/>
<circle cx="453.5" cy="844.6" r="1.55" fill="#0e0e0c"/>
<circle cx="465.6" cy="844.6" r="1.55" fill="#0e0e0c"/>
<circle cx="477.6" cy="844.6" r="1.55" fill="#0e0e0c"/>
<circle cx="489.7" cy="844.6" r="1.55" fill="#0e0e0c"/>
<circle cx="501.7" cy="844.6" r="1.55" fill="#0e0e0c"/>
<circle cx="513.8" cy="844.6" r="1.55" fill="#0e0e0c"/>
<circle cx="525.8" cy="844.6" r="1.55" fill="#0e0e0c"/>
<circle cx="537.9" cy="844.6" r="1.55" fill="#0e0e0c"/>
<circle cx="549.9" cy="844.6" r="1.55" fill="#0e0e0c"/>
<circle cx="562.0" cy="844.6" r="1.55" fill="#0e0e0c"/>
<circle cx="574.1" cy="844.6" r="1.55" fill="#0e0e0c"/>
<circle cx="586.1" cy="844.6" r="1.55" fill="#0e0e0c"/>
<circle cx="598.2" cy="844.6" r="1.55" fill="#0e0e0c"/>
<circle cx="610.2" cy="844.6" r="1.55" fill="#0e0e0c"/>
<circle cx="622.3" cy="844.6" r="1.55" fill="#0e0e0c"/>
<circle cx="634.3" cy="844.6" r="1.55" fill="#0e0e0c"/>
<circle cx="646.4" cy="844.6" r="1.55" fill="#0e0e0c"/>
<circle cx="658.4" cy="844.6" r="1.55" fill="#0e0e0c"/>
<circle cx="670.5" cy="844.6" r="1.55" fill="#0e0e0c"/>
<circle cx="682.6" cy="844.6" r="1.55" fill="#0e0e0c"/>
<circle cx="694.6" cy="844.6" r="1.55" fill="#0e0e0c"/>
<circle cx="706.7" cy="844.6" r="1.55" fill="#0e0e0c"/>
<circle cx="718.7" cy="844.6" r="1.55" fill="#0e0e0c"/>
<circle cx="730.8" cy="844.6" r="1.55" fill="#0e0e0c"/>
<circle cx="742.8" cy="844.6" r="1.55" fill="#0e0e0c"/>
<circle cx="754.9" cy="844.6" r="1.55" fill="#0e0e0c"/>
<circle cx="767.0" cy="844.6" r="1.55" fill="#0e0e0c"/>
<circle cx="779.0" cy="844.6" r="1.55" fill="#0e0e0c"/>
<circle cx="791.1" cy="844.6" r="1.55" fill="#0e0e0c"/>
<circle cx="803.1" cy="844.6" r="1.55" fill="#0e0e0c"/>
<circle cx="815.2" cy="844.6" r="1.55" fill="#0e0e0c"/>
<circle cx="827.2" cy="844.6" r="1.55" fill="#0e0e0c"/>
<circle cx="839.3" cy="844.6" r="1.55" fill="#0e0e0c"/>
<circle cx="851.3" cy="844.6" r="1.55" fill="#0e0e0c"/>
<circle cx="863.4" cy="844.6" r="1.55" fill="#0e0e0c"/>
<circle cx="875.5" cy="844.6" r="1.55" fill="#0e0e0c"/>
<circle cx="887.5" cy="844.6" r="1.55" fill="#0e0e0c"/>
<circle cx="899.6" cy="844.6" r="1.55" fill="#0e0e0c"/>
<circle cx="911.6" cy="844.6" r="1.55" fill="#0e0e0c"/>
<circle cx="923.7" cy="844.6" r="1.55" fill="#0e0e0c"/>
<circle cx="935.7" cy="844.6" r="1.55" fill="#0e0e0c"/>
<circle cx="947.8" cy="844.6" r="1.55" fill="#0e0e0c"/>
<circle cx="959.8" cy="844.6" r="1.55" fill="#0e0e0c"/>
<circle cx="971.9" cy="844.6" r="1.55" fill="#0e0e0c"/>
<circle cx="984.0" cy="844.6" r="1.55" fill="#0e0e0c"/>
<circle cx="996.0" cy="844.6" r="1.55" fill="#0e0e0c"/>
<circle cx="1008.1" cy="844.6" r="1.55" fill="#0e0e0c"/>
<circle cx="1020.1" cy="844.6" r="1.55" fill="#0e0e0c"/>
<circle cx="1032.2" cy="844.6" r="1.55" fill="#0e0e0c"/>
<circle cx="1044.2" cy="844.6" r="1.55" fill="#0e0e0c"/>
<circle cx="1056.3" cy="844.6" r="1.55" fill="#0e0e0c"/>
<circle cx="1068.4" cy="844.6" r="1.55" fill="#0e0e0c"/>
<circle cx="1080.4" cy="844.6" r="1.55" fill="#0e0e0c"/>
<circle cx="1092.5" cy="844.6" r="1.55" fill="#0e0e0c"/>
<circle cx="1104.5" cy="844.6" r="1.55" fill="#0e0e0c"/>
<circle cx="1116.6" cy="844.6" r="1.55" fill="#0e0e0c"/>
<circle cx="1128.6" cy="844.6" r="1.55" fill="#0e0e0c"/>
<circle cx="1140.7" cy="844.6" r="1.55" fill="#0e0e0c"/>
<circle cx="1152.7" cy="844.6" r="1.55" fill="#0e0e0c"/>
<circle cx="1164.8" cy="844.6" r="1.55" fill="#0e0e0c"/>
<circle cx="1176.9" cy="844.6" r="1.55" fill="#0e0e0c"/>
<circle cx="1188.9" cy="844.6" r="1.55" fill="#0e0e0c"/>
<circle cx="453.5" cy="897.8" r="1.55" fill="#0e0e0c"/>
<circle cx="465.6" cy="897.8" r="1.55" fill="#0e0e0c"/>
<circle cx="477.6" cy="897.8" r="1.55" fill="#0e0e0c"/>
<circle cx="489.7" cy="897.8" r="1.55" fill="#0e0e0c"/>
<circle cx="501.7" cy="897.8" r="1.55" fill="#0e0e0c"/>
<circle cx="513.8" cy="897.8" r="1.55" fill="#0e0e0c"/>
<circle cx="525.8" cy="897.8" r="1.55" fill="#0e0e0c"/>
<circle cx="537.9" cy="897.8" r="1.55" fill="#0e0e0c"/>
<circle cx="549.9" cy="897.8" r="1.55" fill="#0e0e0c"/>
<circle cx="562.0" cy="897.8" r="1.55" fill="#0e0e0c"/>
<circle cx="574.1" cy="897.8" r="1.55" fill="#0e0e0c"/>
<circle cx="586.1" cy="897.8" r="1.55" fill="#0e0e0c"/>
<circle cx="598.2" cy="897.8" r="1.55" fill="#0e0e0c"/>
<circle cx="610.2" cy="897.8" r="1.55" fill="#0e0e0c"/>
<circle cx="622.3" cy="897.8" r="1.55" fill="#0e0e0c"/>
<circle cx="634.3" cy="897.8" r="1.55" fill="#0e0e0c"/>
<circle cx="646.4" cy="897.8" r="1.55" fill="#0e0e0c"/>
<circle cx="658.4" cy="897.8" r="1.55" fill="#0e0e0c"/>
<circle cx="670.5" cy="897.8" r="1.55" fill="#0e0e0c"/>
<circle cx="682.6" cy="897.8" r="1.55" fill="#0e0e0c"/>
<circle cx="694.6" cy="897.8" r="1.55" fill="#0e0e0c"/>
<circle cx="706.7" cy="897.8" r="1.55" fill="#0e0e0c"/>
<circle cx="718.7" cy="897.8" r="1.55" fill="#0e0e0c"/>
<circle cx="730.8" cy="897.8" r="1.55" fill="#0e0e0c"/>
<circle cx="742.8" cy="897.8" r="1.55" fill="#0e0e0c"/>
<circle cx="754.9" cy="897.8" r="1.55" fill="#0e0e0c"/>
<circle cx="767.0" cy="897.8" r="1.55" fill="#0e0e0c"/>
<circle cx="779.0" cy="897.8" r="1.55" fill="#0e0e0c"/>
<circle cx="791.1" cy="897.8" r="1.55" fill="#0e0e0c"/>
<circle cx="803.1" cy="897.8" r="1.55" fill="#0e0e0c"/>
<circle cx="815.2" cy="897.8" r="1.55" fill="#0e0e0c"/>
<circle cx="827.2" cy="897.8" r="1.55" fill="#0e0e0c"/>
<circle cx="839.3" cy="897.8" r="1.55" fill="#0e0e0c"/>
<circle cx="851.3" cy="897.8" r="1.55" fill="#0e0e0c"/>
<circle cx="863.4" cy="897.8" r="1.55" fill="#0e0e0c"/>
<circle cx="875.5" cy="897.8" r="1.55" fill="#0e0e0c"/>
<circle cx="887.5" cy="897.8" r="1.55" fill="#0e0e0c"/>
<circle cx="899.6" cy="897.8" r="1.55" fill="#0e0e0c"/>
<circle cx="911.6" cy="897.8" r="1.55" fill="#0e0e0c"/>
<circle cx="923.7" cy="897.8" r="1.55" fill="#0e0e0c"/>
<circle cx="935.7" cy="897.8" r="1.55" fill="#0e0e0c"/>
<circle cx="947.8" cy="897.8" r="1.55" fill="#0e0e0c"/>
<circle cx="959.8" cy="897.8" r="1.55" fill="#0e0e0c"/>
<circle cx="971.9" cy="897.8" r="1.55" fill="#0e0e0c"/>
<circle cx="984.0" cy="897.8" r="1.55" fill="#0e0e0c"/>
<circle cx="996.0" cy="897.8" r="1.55" fill="#0e0e0c"/>
<circle cx="1008.1" cy="897.8" r="1.55" fill="#0e0e0c"/>
<circle cx="1020.1" cy="897.8" r="1.55" fill="#0e0e0c"/>
<circle cx="1032.2" cy="897.8" r="1.55" fill="#0e0e0c"/>
<circle cx="1044.2" cy="897.8" r="1.55" fill="#0e0e0c"/>
<circle cx="1056.3" cy="897.8" r="1.55" fill="#0e0e0c"/>
<circle cx="1068.4" cy="897.8" r="1.55" fill="#0e0e0c"/>
<circle cx="1080.4" cy="897.8" r="1.55" fill="#0e0e0c"/>
<circle cx="1092.5" cy="897.8" r="1.55" fill="#0e0e0c"/>
<circle cx="1104.5" cy="897.8" r="1.55" fill="#0e0e0c"/>
<circle cx="1116.6" cy="897.8" r="1.55" fill="#0e0e0c"/>
<circle cx="1128.6" cy="897.8" r="1.55" fill="#0e0e0c"/>
<circle cx="1140.7" cy="897.8" r="1.55" fill="#0e0e0c"/>
<circle cx="1152.7" cy="897.8" r="1.55" fill="#0e0e0c"/>
<circle cx="1164.8" cy="897.8" r="1.55" fill="#0e0e0c"/>
<circle cx="1176.9" cy="897.8" r="1.55" fill="#0e0e0c"/>
<circle cx="1188.9" cy="897.8" r="1.55" fill="#0e0e0c"/>
<circle cx="248.5" cy="951.0" r="1.55" fill="#0e0e0c"/>
<circle cx="260.6" cy="951.0" r="1.55" fill="#0e0e0c"/>
<circle cx="272.7" cy="951.0" r="1.55" fill="#0e0e0c"/>
<circle cx="284.7" cy="951.0" r="1.55" fill="#0e0e0c"/>
<circle cx="296.8" cy="951.0" r="1.55" fill="#0e0e0c"/>
<circle cx="308.8" cy="951.0" r="1.55" fill="#0e0e0c"/>
<circle cx="320.9" cy="951.0" r="1.55" fill="#0e0e0c"/>
<circle cx="332.9" cy="951.0" r="1.55" fill="#0e0e0c"/>
<circle cx="345.0" cy="951.0" r="1.55" fill="#0e0e0c"/>
<circle cx="357.0" cy="951.0" r="1.55" fill="#0e0e0c"/>
<circle cx="369.1" cy="951.0" r="1.55" fill="#0e0e0c"/>
<circle cx="381.2" cy="951.0" r="1.55" fill="#0e0e0c"/>
<circle cx="393.2" cy="951.0" r="1.55" fill="#0e0e0c"/>
<circle cx="405.3" cy="951.0" r="1.55" fill="#0e0e0c"/>
<circle cx="417.3" cy="951.0" r="1.55" fill="#0e0e0c"/>
<circle cx="429.4" cy="951.0" r="1.55" fill="#0e0e0c"/>
<circle cx="441.4" cy="951.0" r="1.55" fill="#0e0e0c"/>
<circle cx="453.5" cy="951.0" r="1.55" fill="#0e0e0c"/>
<circle cx="465.6" cy="951.0" r="1.55" fill="#0e0e0c"/>
<circle cx="477.6" cy="951.0" r="1.55" fill="#0e0e0c"/>
<circle cx="489.7" cy="951.0" r="1.55" fill="#0e0e0c"/>
<circle cx="501.7" cy="951.0" r="1.55" fill="#0e0e0c"/>
<circle cx="513.8" cy="951.0" r="1.55" fill="#0e0e0c"/>
<circle cx="525.8" cy="951.0" r="1.55" fill="#0e0e0c"/>
<circle cx="537.9" cy="951.0" r="1.55" fill="#0e0e0c"/>
<circle cx="549.9" cy="951.0" r="1.55" fill="#0e0e0c"/>
<circle cx="562.0" cy="951.0" r="1.55" fill="#0e0e0c"/>
<circle cx="574.1" cy="951.0" r="1.55" fill="#0e0e0c"/>
<circle cx="586.1" cy="951.0" r="1.55" fill="#0e0e0c"/>
<circle cx="598.2" cy="951.0" r="1.55" fill="#0e0e0c"/>
<circle cx="610.2" cy="951.0" r="1.55" fill="#0e0e0c"/>
<circle cx="622.3" cy="951.0" r="1.55" fill="#0e0e0c"/>
<circle cx="634.3" cy="951.0" r="1.55" fill="#0e0e0c"/>
<circle cx="646.4" cy="951.0" r="1.55" fill="#0e0e0c"/>
<circle cx="658.4" cy="951.0" r="1.55" fill="#0e0e0c"/>
<circle cx="670.5" cy="951.0" r="1.55" fill="#0e0e0c"/>
<circle cx="682.6" cy="951.0" r="1.55" fill="#0e0e0c"/>
<circle cx="694.6" cy="951.0" r="1.55" fill="#0e0e0c"/>
<circle cx="706.7" cy="951.0" r="1.55" fill="#0e0e0c"/>
<circle cx="718.7" cy="951.0" r="1.55" fill="#0e0e0c"/>
<circle cx="730.8" cy="951.0" r="1.55" fill="#0e0e0c"/>
<circle cx="742.8" cy="951.0" r="1.55" fill="#0e0e0c"/>
<circle cx="754.9" cy="951.0" r="1.55" fill="#0e0e0c"/>
<circle cx="767.0" cy="951.0" r="1.55" fill="#0e0e0c"/>
<circle cx="779.0" cy="951.0" r="1.55" fill="#0e0e0c"/>
<circle cx="791.1" cy="951.0" r="1.55" fill="#0e0e0c"/>
<circle cx="803.1" cy="951.0" r="1.55" fill="#0e0e0c"/>
<circle cx="815.2" cy="951.0" r="1.55" fill="#0e0e0c"/>
<circle cx="827.2" cy="951.0" r="1.55" fill="#0e0e0c"/>
<circle cx="839.3" cy="951.0" r="1.55" fill="#0e0e0c"/>
<circle cx="851.3" cy="951.0" r="1.55" fill="#0e0e0c"/>
<circle cx="863.4" cy="951.0" r="1.55" fill="#0e0e0c"/>
<circle cx="875.5" cy="951.0" r="1.55" fill="#0e0e0c"/>
<circle cx="887.5" cy="951.0" r="1.55" fill="#0e0e0c"/>
<circle cx="899.6" cy="951.0" r="1.55" fill="#0e0e0c"/>
<circle cx="911.6" cy="951.0" r="1.55" fill="#0e0e0c"/>
<circle cx="923.7" cy="951.0" r="1.55" fill="#0e0e0c"/>
<circle cx="935.7" cy="951.0" r="1.55" fill="#0e0e0c"/>
<circle cx="947.8" cy="951.0" r="1.55" fill="#0e0e0c"/>
<circle cx="959.8" cy="951.0" r="1.55" fill="#0e0e0c"/>
<circle cx="971.9" cy="951.0" r="1.55" fill="#0e0e0c"/>
<circle cx="984.0" cy="951.0" r="1.55" fill="#0e0e0c"/>
<circle cx="996.0" cy="951.0" r="1.55" fill="#0e0e0c"/>
<circle cx="1008.1" cy="951.0" r="1.55" fill="#0e0e0c"/>
<circle cx="1020.1" cy="951.0" r="1.55" fill="#0e0e0c"/>
<circle cx="1032.2" cy="951.0" r="1.55" fill="#0e0e0c"/>
<circle cx="1044.2" cy="951.0" r="1.55" fill="#0e0e0c"/>
<circle cx="1056.3" cy="951.0" r="1.55" fill="#0e0e0c"/>
<circle cx="1068.4" cy="951.0" r="1.55" fill="#0e0e0c"/>
<circle cx="1080.4" cy="951.0" r="1.55" fill="#0e0e0c"/>
<circle cx="1092.5" cy="951.0" r="1.55" fill="#0e0e0c"/>
<circle cx="1104.5" cy="951.0" r="1.55" fill="#0e0e0c"/>
<circle cx="1116.6" cy="951.0" r="1.55" fill="#0e0e0c"/>
<circle cx="1128.6" cy="951.0" r="1.55" fill="#0e0e0c"/>
<circle cx="1140.7" cy="951.0" r="1.55" fill="#0e0e0c"/>
<circle cx="1152.7" cy="951.0" r="1.55" fill="#0e0e0c"/>
<circle cx="1164.8" cy="951.0" r="1.55" fill="#0e0e0c"/>
<circle cx="1176.9" cy="951.0" r="1.55" fill="#0e0e0c"/>
<circle cx="1188.9" cy="951.0" r="1.55" fill="#0e0e0c"/>
<circle cx="1201.0" cy="951.0" r="1.55" fill="#0e0e0c"/>
<circle cx="284.7" cy="1004.2" r="1.55" fill="#0e0e0c"/>
<circle cx="296.8" cy="1004.2" r="1.55" fill="#0e0e0c"/>
<circle cx="308.8" cy="1004.2" r="1.55" fill="#0e0e0c"/>
<circle cx="320.9" cy="1004.2" r="1.55" fill="#0e0e0c"/>
<circle cx="332.9" cy="1004.2" r="1.55" fill="#0e0e0c"/>
<circle cx="345.0" cy="1004.2" r="1.55" fill="#0e0e0c"/>
<circle cx="357.0" cy="1004.2" r="1.55" fill="#0e0e0c"/>
<circle cx="369.1" cy="1004.2" r="1.55" fill="#0e0e0c"/>
<circle cx="381.2" cy="1004.2" r="1.55" fill="#0e0e0c"/>
<circle cx="393.2" cy="1004.2" r="1.55" fill="#0e0e0c"/>
<circle cx="405.3" cy="1004.2" r="1.55" fill="#0e0e0c"/>
<circle cx="417.3" cy="1004.2" r="1.55" fill="#0e0e0c"/>
<circle cx="429.4" cy="1004.2" r="1.55" fill="#0e0e0c"/>
<circle cx="441.4" cy="1004.2" r="1.55" fill="#0e0e0c"/>
<circle cx="453.5" cy="1004.2" r="1.55" fill="#0e0e0c"/>
<circle cx="465.6" cy="1004.2" r="1.55" fill="#0e0e0c"/>
<circle cx="477.6" cy="1004.2" r="1.55" fill="#0e0e0c"/>
<circle cx="489.7" cy="1004.2" r="1.55" fill="#0e0e0c"/>
<circle cx="501.7" cy="1004.2" r="1.55" fill="#0e0e0c"/>
<circle cx="513.8" cy="1004.2" r="1.55" fill="#0e0e0c"/>
<circle cx="525.8" cy="1004.2" r="1.55" fill="#0e0e0c"/>
<circle cx="537.9" cy="1004.2" r="1.55" fill="#0e0e0c"/>
<circle cx="549.9" cy="1004.2" r="1.55" fill="#0e0e0c"/>
<circle cx="562.0" cy="1004.2" r="1.55" fill="#0e0e0c"/>
<circle cx="574.1" cy="1004.2" r="1.55" fill="#0e0e0c"/>
<circle cx="586.1" cy="1004.2" r="1.55" fill="#0e0e0c"/>
<circle cx="598.2" cy="1004.2" r="1.55" fill="#0e0e0c"/>
<circle cx="610.2" cy="1004.2" r="1.55" fill="#0e0e0c"/>
<circle cx="622.3" cy="1004.2" r="1.55" fill="#0e0e0c"/>
<circle cx="634.3" cy="1004.2" r="1.55" fill="#0e0e0c"/>
<circle cx="646.4" cy="1004.2" r="1.55" fill="#0e0e0c"/>
<circle cx="658.4" cy="1004.2" r="1.55" fill="#0e0e0c"/>
<circle cx="670.5" cy="1004.2" r="1.55" fill="#0e0e0c"/>
<circle cx="682.6" cy="1004.2" r="1.55" fill="#0e0e0c"/>
<circle cx="694.6" cy="1004.2" r="1.55" fill="#0e0e0c"/>
<circle cx="706.7" cy="1004.2" r="1.55" fill="#0e0e0c"/>
<circle cx="718.7" cy="1004.2" r="1.55" fill="#0e0e0c"/>
<circle cx="730.8" cy="1004.2" r="1.55" fill="#0e0e0c"/>
<circle cx="742.8" cy="1004.2" r="1.55" fill="#0e0e0c"/>
<circle cx="754.9" cy="1004.2" r="1.55" fill="#0e0e0c"/>
<circle cx="767.0" cy="1004.2" r="1.55" fill="#0e0e0c"/>
<circle cx="779.0" cy="1004.2" r="1.55" fill="#0e0e0c"/>
<circle cx="791.1" cy="1004.2" r="1.55" fill="#0e0e0c"/>
<circle cx="803.1" cy="1004.2" r="1.55" fill="#0e0e0c"/>
<circle cx="815.2" cy="1004.2" r="1.55" fill="#0e0e0c"/>
<circle cx="827.2" cy="1004.2" r="1.55" fill="#0e0e0c"/>
<circle cx="839.3" cy="1004.2" r="1.55" fill="#0e0e0c"/>
<circle cx="851.3" cy="1004.2" r="1.55" fill="#0e0e0c"/>
<circle cx="863.4" cy="1004.2" r="1.55" fill="#0e0e0c"/>
<circle cx="875.5" cy="1004.2" r="1.55" fill="#0e0e0c"/>
<circle cx="887.5" cy="1004.2" r="1.55" fill="#0e0e0c"/>
<circle cx="899.6" cy="1004.2" r="1.55" fill="#0e0e0c"/>
<circle cx="911.6" cy="1004.2" r="1.55" fill="#0e0e0c"/>
<circle cx="923.7" cy="1004.2" r="1.55" fill="#0e0e0c"/>
<circle cx="935.7" cy="1004.2" r="1.55" fill="#0e0e0c"/>
<circle cx="947.8" cy="1004.2" r="1.55" fill="#0e0e0c"/>
<circle cx="959.8" cy="1004.2" r="1.55" fill="#0e0e0c"/>
<circle cx="971.9" cy="1004.2" r="1.55" fill="#0e0e0c"/>
<circle cx="984.0" cy="1004.2" r="1.55" fill="#0e0e0c"/>
<circle cx="996.0" cy="1004.2" r="1.55" fill="#0e0e0c"/>
<circle cx="1008.1" cy="1004.2" r="1.55" fill="#0e0e0c"/>
<circle cx="1020.1" cy="1004.2" r="1.55" fill="#0e0e0c"/>
<circle cx="1032.2" cy="1004.2" r="1.55" fill="#0e0e0c"/>
<circle cx="1044.2" cy="1004.2" r="1.55" fill="#0e0e0c"/>
<circle cx="1056.3" cy="1004.2" r="1.55" fill="#0e0e0c"/>
<circle cx="1068.4" cy="1004.2" r="1.55" fill="#0e0e0c"/>
<circle cx="1080.4" cy="1004.2" r="1.55" fill="#0e0e0c"/>
<circle cx="1092.5" cy="1004.2" r="1.55" fill="#0e0e0c"/>
<circle cx="1104.5" cy="1004.2" r="1.55" fill="#0e0e0c"/>
<circle cx="1116.6" cy="1004.2" r="1.55" fill="#0e0e0c"/>
<circle cx="1128.6" cy="1004.2" r="1.55" fill="#0e0e0c"/>
<circle cx="1140.7" cy="1004.2" r="1.55" fill="#0e0e0c"/>
<circle cx="1152.7" cy="1004.2" r="1.55" fill="#0e0e0c"/>
<circle cx="1164.8" cy="1004.2" r="1.55" fill="#0e0e0c"/>
<circle cx="1176.9" cy="1004.2" r="1.55" fill="#0e0e0c"/>
<circle cx="1188.9" cy="1004.2" r="1.55" fill="#0e0e0c"/>
<circle cx="1201.0" cy="1004.2" r="1.55" fill="#0e0e0c"/>
<circle cx="1213.0" cy="1004.2" r="1.55" fill="#0e0e0c"/>
<circle cx="1225.1" cy="1004.2" r="1.55" fill="#0e0e0c"/>
<circle cx="260.6" cy="1057.4" r="1.55" fill="#0e0e0c"/>
<circle cx="272.7" cy="1057.4" r="1.55" fill="#0e0e0c"/>
<circle cx="284.7" cy="1057.4" r="1.55" fill="#0e0e0c"/>
<circle cx="296.8" cy="1057.4" r="1.55" fill="#0e0e0c"/>
<circle cx="308.8" cy="1057.4" r="1.55" fill="#0e0e0c"/>
<circle cx="320.9" cy="1057.4" r="1.55" fill="#0e0e0c"/>
<circle cx="332.9" cy="1057.4" r="1.55" fill="#0e0e0c"/>
<circle cx="345.0" cy="1057.4" r="1.55" fill="#0e0e0c"/>
<circle cx="357.0" cy="1057.4" r="1.55" fill="#0e0e0c"/>
<circle cx="369.1" cy="1057.4" r="1.55" fill="#0e0e0c"/>
<circle cx="381.2" cy="1057.4" r="1.55" fill="#0e0e0c"/>
<circle cx="393.2" cy="1057.4" r="1.55" fill="#0e0e0c"/>
<circle cx="405.3" cy="1057.4" r="1.55" fill="#0e0e0c"/>
<circle cx="417.3" cy="1057.4" r="1.55" fill="#0e0e0c"/>
<circle cx="429.4" cy="1057.4" r="1.55" fill="#0e0e0c"/>
<circle cx="441.4" cy="1057.4" r="1.55" fill="#0e0e0c"/>
<circle cx="453.5" cy="1057.4" r="1.55" fill="#0e0e0c"/>
<circle cx="465.6" cy="1057.4" r="1.55" fill="#0e0e0c"/>
<circle cx="477.6" cy="1057.4" r="1.55" fill="#0e0e0c"/>
<circle cx="489.7" cy="1057.4" r="1.55" fill="#0e0e0c"/>
<circle cx="501.7" cy="1057.4" r="1.55" fill="#0e0e0c"/>
<circle cx="513.8" cy="1057.4" r="1.55" fill="#0e0e0c"/>
<circle cx="525.8" cy="1057.4" r="1.55" fill="#0e0e0c"/>
<circle cx="537.9" cy="1057.4" r="1.55" fill="#0e0e0c"/>
<circle cx="549.9" cy="1057.4" r="1.55" fill="#0e0e0c"/>
<circle cx="562.0" cy="1057.4" r="1.55" fill="#0e0e0c"/>
<circle cx="574.1" cy="1057.4" r="1.55" fill="#0e0e0c"/>
<circle cx="586.1" cy="1057.4" r="1.55" fill="#0e0e0c"/>
<circle cx="598.2" cy="1057.4" r="1.55" fill="#0e0e0c"/>
<circle cx="610.2" cy="1057.4" r="1.55" fill="#0e0e0c"/>
<circle cx="622.3" cy="1057.4" r="1.55" fill="#0e0e0c"/>
<circle cx="634.3" cy="1057.4" r="1.55" fill="#0e0e0c"/>
<circle cx="646.4" cy="1057.4" r="1.55" fill="#0e0e0c"/>
<circle cx="658.4" cy="1057.4" r="1.55" fill="#0e0e0c"/>
<circle cx="670.5" cy="1057.4" r="1.55" fill="#0e0e0c"/>
<circle cx="682.6" cy="1057.4" r="1.55" fill="#0e0e0c"/>
<circle cx="694.6" cy="1057.4" r="1.55" fill="#0e0e0c"/>
<circle cx="706.7" cy="1057.4" r="1.55" fill="#0e0e0c"/>
<circle cx="718.7" cy="1057.4" r="1.55" fill="#0e0e0c"/>
<circle cx="730.8" cy="1057.4" r="1.55" fill="#0e0e0c"/>
<circle cx="742.8" cy="1057.4" r="1.55" fill="#0e0e0c"/>
<circle cx="754.9" cy="1057.4" r="1.55" fill="#0e0e0c"/>
<circle cx="767.0" cy="1057.4" r="1.55" fill="#0e0e0c"/>
<circle cx="779.0" cy="1057.4" r="1.55" fill="#0e0e0c"/>
<circle cx="791.1" cy="1057.4" r="1.55" fill="#0e0e0c"/>
<circle cx="803.1" cy="1057.4" r="1.55" fill="#0e0e0c"/>
<circle cx="815.2" cy="1057.4" r="1.55" fill="#0e0e0c"/>
<circle cx="827.2" cy="1057.4" r="1.55" fill="#0e0e0c"/>
<circle cx="839.3" cy="1057.4" r="1.55" fill="#0e0e0c"/>
<circle cx="851.3" cy="1057.4" r="1.55" fill="#0e0e0c"/>
<circle cx="863.4" cy="1057.4" r="1.55" fill="#0e0e0c"/>
<circle cx="875.5" cy="1057.4" r="1.55" fill="#0e0e0c"/>
<circle cx="887.5" cy="1057.4" r="1.55" fill="#0e0e0c"/>
<circle cx="899.6" cy="1057.4" r="1.55" fill="#0e0e0c"/>
<circle cx="911.6" cy="1057.4" r="1.55" fill="#0e0e0c"/>
<circle cx="923.7" cy="1057.4" r="1.55" fill="#0e0e0c"/>
<circle cx="935.7" cy="1057.4" r="1.55" fill="#0e0e0c"/>
<circle cx="947.8" cy="1057.4" r="1.55" fill="#0e0e0c"/>
<circle cx="959.8" cy="1057.4" r="1.55" fill="#0e0e0c"/>
<circle cx="971.9" cy="1057.4" r="1.55" fill="#0e0e0c"/>
<circle cx="984.0" cy="1057.4" r="1.55" fill="#0e0e0c"/>
<circle cx="996.0" cy="1057.4" r="1.55" fill="#0e0e0c"/>
<circle cx="1008.1" cy="1057.4" r="1.55" fill="#0e0e0c"/>
<circle cx="1020.1" cy="1057.4" r="1.55" fill="#0e0e0c"/>
<circle cx="1032.2" cy="1057.4" r="1.55" fill="#0e0e0c"/>
<circle cx="1044.2" cy="1057.4" r="1.55" fill="#0e0e0c"/>
<circle cx="1056.3" cy="1057.4" r="1.55" fill="#0e0e0c"/>
<circle cx="1068.4" cy="1057.4" r="1.55" fill="#0e0e0c"/>
<circle cx="1080.4" cy="1057.4" r="1.55" fill="#0e0e0c"/>
<circle cx="1092.5" cy="1057.4" r="1.55" fill="#0e0e0c"/>
<circle cx="1104.5" cy="1057.4" r="1.55" fill="#0e0e0c"/>
<circle cx="1116.6" cy="1057.4" r="1.55" fill="#0e0e0c"/>
<circle cx="1128.6" cy="1057.4" r="1.55" fill="#0e0e0c"/>
<circle cx="1140.7" cy="1057.4" r="1.55" fill="#0e0e0c"/>
<circle cx="1152.7" cy="1057.4" r="1.55" fill="#0e0e0c"/>
<circle cx="381.2" cy="1110.6" r="1.55" fill="#0e0e0c"/>
<circle cx="393.2" cy="1110.6" r="1.55" fill="#0e0e0c"/>
<circle cx="405.3" cy="1110.6" r="1.55" fill="#0e0e0c"/>
<circle cx="417.3" cy="1110.6" r="1.55" fill="#0e0e0c"/>
<circle cx="429.4" cy="1110.6" r="1.55" fill="#0e0e0c"/>
<circle cx="441.4" cy="1110.6" r="1.55" fill="#0e0e0c"/>
<circle cx="453.5" cy="1110.6" r="1.55" fill="#0e0e0c"/>
<circle cx="465.6" cy="1110.6" r="1.55" fill="#0e0e0c"/>
<circle cx="477.6" cy="1110.6" r="1.55" fill="#0e0e0c"/>
<circle cx="489.7" cy="1110.6" r="1.55" fill="#0e0e0c"/>
<circle cx="501.7" cy="1110.6" r="1.55" fill="#0e0e0c"/>
<circle cx="513.8" cy="1110.6" r="1.55" fill="#0e0e0c"/>
<circle cx="525.8" cy="1110.6" r="1.55" fill="#0e0e0c"/>
<circle cx="537.9" cy="1110.6" r="1.55" fill="#0e0e0c"/>
<circle cx="549.9" cy="1110.6" r="1.55" fill="#0e0e0c"/>
<circle cx="562.0" cy="1110.6" r="1.55" fill="#0e0e0c"/>
<circle cx="574.1" cy="1110.6" r="1.55" fill="#0e0e0c"/>
<circle cx="586.1" cy="1110.6" r="1.55" fill="#0e0e0c"/>
<circle cx="598.2" cy="1110.6" r="1.55" fill="#0e0e0c"/>
<circle cx="610.2" cy="1110.6" r="1.55" fill="#0e0e0c"/>
<circle cx="622.3" cy="1110.6" r="1.55" fill="#0e0e0c"/>
<circle cx="634.3" cy="1110.6" r="1.55" fill="#0e0e0c"/>
<circle cx="646.4" cy="1110.6" r="1.55" fill="#0e0e0c"/>
<circle cx="658.4" cy="1110.6" r="1.55" fill="#0e0e0c"/>
<circle cx="670.5" cy="1110.6" r="1.55" fill="#0e0e0c"/>
<circle cx="682.6" cy="1110.6" r="1.55" fill="#0e0e0c"/>
<circle cx="694.6" cy="1110.6" r="1.55" fill="#0e0e0c"/>
<circle cx="706.7" cy="1110.6" r="1.55" fill="#0e0e0c"/>
<circle cx="718.7" cy="1110.6" r="1.55" fill="#0e0e0c"/>
<circle cx="730.8" cy="1110.6" r="1.55" fill="#0e0e0c"/>
<circle cx="742.8" cy="1110.6" r="1.55" fill="#0e0e0c"/>
<circle cx="754.9" cy="1110.6" r="1.55" fill="#0e0e0c"/>
<circle cx="767.0" cy="1110.6" r="1.55" fill="#0e0e0c"/>
<circle cx="779.0" cy="1110.6" r="1.55" fill="#0e0e0c"/>
<circle cx="791.1" cy="1110.6" r="1.55" fill="#0e0e0c"/>
<circle cx="803.1" cy="1110.6" r="1.55" fill="#0e0e0c"/>
<circle cx="815.2" cy="1110.6" r="1.55" fill="#0e0e0c"/>
<circle cx="827.2" cy="1110.6" r="1.55" fill="#0e0e0c"/>
<circle cx="839.3" cy="1110.6" r="1.55" fill="#0e0e0c"/>
<circle cx="851.3" cy="1110.6" r="1.55" fill="#0e0e0c"/>
<circle cx="863.4" cy="1110.6" r="1.55" fill="#0e0e0c"/>
<circle cx="875.5" cy="1110.6" r="1.55" fill="#0e0e0c"/>
<circle cx="887.5" cy="1110.6" r="1.55" fill="#0e0e0c"/>
<circle cx="899.6" cy="1110.6" r="1.55" fill="#0e0e0c"/>
<circle cx="911.6" cy="1110.6" r="1.55" fill="#0e0e0c"/>
<circle cx="923.7" cy="1110.6" r="1.55" fill="#0e0e0c"/>
<circle cx="935.7" cy="1110.6" r="1.55" fill="#0e0e0c"/>
<circle cx="947.8" cy="1110.6" r="1.55" fill="#0e0e0c"/>
<circle cx="959.8" cy="1110.6" r="1.55" fill="#0e0e0c"/>
<circle cx="971.9" cy="1110.6" r="1.55" fill="#0e0e0c"/>
<circle cx="984.0" cy="1110.6" r="1.55" fill="#0e0e0c"/>
<circle cx="996.0" cy="1110.6" r="1.55" fill="#0e0e0c"/>
<circle cx="1008.1" cy="1110.6" r="1.55" fill="#0e0e0c"/>
<circle cx="1020.1" cy="1110.6" r="1.55" fill="#0e0e0c"/>
<circle cx="1032.2" cy="1110.6" r="1.55" fill="#0e0e0c"/>
<circle cx="1044.2" cy="1110.6" r="1.55" fill="#0e0e0c"/>
<circle cx="1056.3" cy="1110.6" r="1.55" fill="#0e0e0c"/>
<circle cx="1068.4" cy="1110.6" r="1.55" fill="#0e0e0c"/>
<circle cx="1080.4" cy="1110.6" r="1.55" fill="#0e0e0c"/>
<circle cx="1092.5" cy="1110.6" r="1.55" fill="#0e0e0c"/>
<circle cx="1104.5" cy="1110.6" r="1.55" fill="#0e0e0c"/>
<circle cx="1116.6" cy="1110.6" r="1.55" fill="#0e0e0c"/>
<circle cx="1128.6" cy="1110.6" r="1.55" fill="#0e0e0c"/>
<circle cx="1140.7" cy="1110.6" r="1.55" fill="#0e0e0c"/>
<circle cx="1152.7" cy="1110.6" r="1.55" fill="#0e0e0c"/>
<circle cx="1164.8" cy="1110.6" r="1.55" fill="#0e0e0c"/>
<circle cx="1176.9" cy="1110.6" r="1.55" fill="#0e0e0c"/>
<circle cx="1188.9" cy="1110.6" r="1.55" fill="#0e0e0c"/>
<circle cx="1201.0" cy="1110.6" r="1.55" fill="#0e0e0c"/>
<circle cx="381.2" cy="1163.8" r="1.55" fill="#0e0e0c"/>
<circle cx="393.2" cy="1163.8" r="1.55" fill="#0e0e0c"/>
<circle cx="405.3" cy="1163.8" r="1.55" fill="#0e0e0c"/>
<circle cx="417.3" cy="1163.8" r="1.55" fill="#0e0e0c"/>
<circle cx="429.4" cy="1163.8" r="1.55" fill="#0e0e0c"/>
<circle cx="441.4" cy="1163.8" r="1.55" fill="#0e0e0c"/>
<circle cx="453.5" cy="1163.8" r="1.55" fill="#0e0e0c"/>
<circle cx="465.6" cy="1163.8" r="1.55" fill="#0e0e0c"/>
<circle cx="477.6" cy="1163.8" r="1.55" fill="#0e0e0c"/>
<circle cx="489.7" cy="1163.8" r="1.55" fill="#0e0e0c"/>
<circle cx="501.7" cy="1163.8" r="1.55" fill="#0e0e0c"/>
<circle cx="513.8" cy="1163.8" r="1.55" fill="#0e0e0c"/>
<circle cx="525.8" cy="1163.8" r="1.55" fill="#0e0e0c"/>
<circle cx="537.9" cy="1163.8" r="1.55" fill="#0e0e0c"/>
<circle cx="549.9" cy="1163.8" r="1.55" fill="#0e0e0c"/>
<circle cx="562.0" cy="1163.8" r="1.55" fill="#0e0e0c"/>
<circle cx="574.1" cy="1163.8" r="1.55" fill="#0e0e0c"/>
<circle cx="586.1" cy="1163.8" r="1.55" fill="#0e0e0c"/>
<circle cx="598.2" cy="1163.8" r="1.55" fill="#0e0e0c"/>
<circle cx="610.2" cy="1163.8" r="1.55" fill="#0e0e0c"/>
<circle cx="622.3" cy="1163.8" r="1.55" fill="#0e0e0c"/>
<circle cx="634.3" cy="1163.8" r="1.55" fill="#0e0e0c"/>
<circle cx="646.4" cy="1163.8" r="1.55" fill="#0e0e0c"/>
<circle cx="658.4" cy="1163.8" r="1.55" fill="#0e0e0c"/>
<circle cx="670.5" cy="1163.8" r="1.55" fill="#0e0e0c"/>
<circle cx="682.6" cy="1163.8" r="1.55" fill="#0e0e0c"/>
<circle cx="694.6" cy="1163.8" r="1.55" fill="#0e0e0c"/>
<circle cx="706.7" cy="1163.8" r="1.55" fill="#0e0e0c"/>
<circle cx="718.7" cy="1163.8" r="1.55" fill="#0e0e0c"/>
<circle cx="730.8" cy="1163.8" r="1.55" fill="#0e0e0c"/>
<circle cx="742.8" cy="1163.8" r="1.55" fill="#0e0e0c"/>
<circle cx="754.9" cy="1163.8" r="1.55" fill="#0e0e0c"/>
<circle cx="767.0" cy="1163.8" r="1.55" fill="#0e0e0c"/>
<circle cx="779.0" cy="1163.8" r="1.55" fill="#0e0e0c"/>
<circle cx="791.1" cy="1163.8" r="1.55" fill="#0e0e0c"/>
<circle cx="803.1" cy="1163.8" r="1.55" fill="#0e0e0c"/>
<circle cx="815.2" cy="1163.8" r="1.55" fill="#0e0e0c"/>
<circle cx="827.2" cy="1163.8" r="1.55" fill="#0e0e0c"/>
<circle cx="839.3" cy="1163.8" r="1.55" fill="#0e0e0c"/>
<circle cx="851.3" cy="1163.8" r="1.55" fill="#0e0e0c"/>
<circle cx="863.4" cy="1163.8" r="1.55" fill="#0e0e0c"/>
<circle cx="875.5" cy="1163.8" r="1.55" fill="#0e0e0c"/>
<circle cx="887.5" cy="1163.8" r="1.55" fill="#0e0e0c"/>
<circle cx="899.6" cy="1163.8" r="1.55" fill="#0e0e0c"/>
<circle cx="911.6" cy="1163.8" r="1.55" fill="#0e0e0c"/>
<circle cx="923.7" cy="1163.8" r="1.55" fill="#0e0e0c"/>
<circle cx="935.7" cy="1163.8" r="1.55" fill="#0e0e0c"/>
<circle cx="947.8" cy="1163.8" r="1.55" fill="#0e0e0c"/>
<circle cx="959.8" cy="1163.8" r="1.55" fill="#0e0e0c"/>
<circle cx="971.9" cy="1163.8" r="1.55" fill="#0e0e0c"/>
<circle cx="984.0" cy="1163.8" r="1.55" fill="#0e0e0c"/>
<circle cx="996.0" cy="1163.8" r="1.55" fill="#0e0e0c"/>
<circle cx="1008.1" cy="1163.8" r="1.55" fill="#0e0e0c"/>
<circle cx="1020.1" cy="1163.8" r="1.55" fill="#0e0e0c"/>
<circle cx="1032.2" cy="1163.8" r="1.55" fill="#0e0e0c"/>
<circle cx="1044.2" cy="1163.8" r="1.55" fill="#0e0e0c"/>
<circle cx="1056.3" cy="1163.8" r="1.55" fill="#0e0e0c"/>
<circle cx="1068.4" cy="1163.8" r="1.55" fill="#0e0e0c"/>
<circle cx="1080.4" cy="1163.8" r="1.55" fill="#0e0e0c"/>
<circle cx="1092.5" cy="1163.8" r="1.55" fill="#0e0e0c"/>
<circle cx="1104.5" cy="1163.8" r="1.55" fill="#0e0e0c"/>
<circle cx="1116.6" cy="1163.8" r="1.55" fill="#0e0e0c"/>
<circle cx="1128.6" cy="1163.8" r="1.55" fill="#0e0e0c"/>
<circle cx="1140.7" cy="1163.8" r="1.55" fill="#0e0e0c"/>
<circle cx="1152.7" cy="1163.8" r="1.55" fill="#0e0e0c"/>
<circle cx="1164.8" cy="1163.8" r="1.55" fill="#0e0e0c"/>
<circle cx="1176.9" cy="1163.8" r="1.55" fill="#0e0e0c"/>
<circle cx="1188.9" cy="1163.8" r="1.55" fill="#0e0e0c"/>
<circle cx="1201.0" cy="1163.8" r="1.55" fill="#0e0e0c"/>
<circle cx="308.8" cy="1217.0" r="1.55" fill="#0e0e0c"/>
<circle cx="320.9" cy="1217.0" r="1.55" fill="#0e0e0c"/>
<circle cx="332.9" cy="1217.0" r="1.55" fill="#0e0e0c"/>
<circle cx="345.0" cy="1217.0" r="1.55" fill="#0e0e0c"/>
<circle cx="357.0" cy="1217.0" r="1.55" fill="#0e0e0c"/>
<circle cx="369.1" cy="1217.0" r="1.55" fill="#0e0e0c"/>
<circle cx="381.2" cy="1217.0" r="1.55" fill="#0e0e0c"/>
<circle cx="393.2" cy="1217.0" r="1.55" fill="#0e0e0c"/>
<circle cx="405.3" cy="1217.0" r="1.55" fill="#0e0e0c"/>
<circle cx="417.3" cy="1217.0" r="1.55" fill="#0e0e0c"/>
<circle cx="429.4" cy="1217.0" r="1.55" fill="#0e0e0c"/>
<circle cx="441.4" cy="1217.0" r="1.55" fill="#0e0e0c"/>
<circle cx="453.5" cy="1217.0" r="1.55" fill="#0e0e0c"/>
<circle cx="465.6" cy="1217.0" r="1.55" fill="#0e0e0c"/>
<circle cx="477.6" cy="1217.0" r="1.55" fill="#0e0e0c"/>
<circle cx="489.7" cy="1217.0" r="1.55" fill="#0e0e0c"/>
<circle cx="501.7" cy="1217.0" r="1.55" fill="#0e0e0c"/>
<circle cx="513.8" cy="1217.0" r="1.55" fill="#0e0e0c"/>
<circle cx="525.8" cy="1217.0" r="1.55" fill="#0e0e0c"/>
<circle cx="537.9" cy="1217.0" r="1.55" fill="#0e0e0c"/>
<circle cx="549.9" cy="1217.0" r="1.55" fill="#0e0e0c"/>
<circle cx="562.0" cy="1217.0" r="1.55" fill="#0e0e0c"/>
<circle cx="574.1" cy="1217.0" r="1.55" fill="#0e0e0c"/>
<circle cx="586.1" cy="1217.0" r="1.55" fill="#0e0e0c"/>
<circle cx="598.2" cy="1217.0" r="1.55" fill="#0e0e0c"/>
<circle cx="610.2" cy="1217.0" r="1.55" fill="#0e0e0c"/>
<circle cx="622.3" cy="1217.0" r="1.55" fill="#0e0e0c"/>
<circle cx="634.3" cy="1217.0" r="1.55" fill="#0e0e0c"/>
<circle cx="646.4" cy="1217.0" r="1.55" fill="#0e0e0c"/>
<circle cx="658.4" cy="1217.0" r="1.55" fill="#0e0e0c"/>
<circle cx="670.5" cy="1217.0" r="1.55" fill="#0e0e0c"/>
<circle cx="682.6" cy="1217.0" r="1.55" fill="#0e0e0c"/>
<circle cx="694.6" cy="1217.0" r="1.55" fill="#0e0e0c"/>
<circle cx="706.7" cy="1217.0" r="1.55" fill="#0e0e0c"/>
<circle cx="718.7" cy="1217.0" r="1.55" fill="#0e0e0c"/>
<circle cx="730.8" cy="1217.0" r="1.55" fill="#0e0e0c"/>
<circle cx="742.8" cy="1217.0" r="1.55" fill="#0e0e0c"/>
<circle cx="754.9" cy="1217.0" r="1.55" fill="#0e0e0c"/>
<circle cx="767.0" cy="1217.0" r="1.55" fill="#0e0e0c"/>
<circle cx="779.0" cy="1217.0" r="1.55" fill="#0e0e0c"/>
<circle cx="791.1" cy="1217.0" r="1.55" fill="#0e0e0c"/>
<circle cx="803.1" cy="1217.0" r="1.55" fill="#0e0e0c"/>
<circle cx="815.2" cy="1217.0" r="1.55" fill="#0e0e0c"/>
<circle cx="827.2" cy="1217.0" r="1.55" fill="#0e0e0c"/>
<circle cx="839.3" cy="1217.0" r="1.55" fill="#0e0e0c"/>
<circle cx="851.3" cy="1217.0" r="1.55" fill="#0e0e0c"/>
<circle cx="863.4" cy="1217.0" r="1.55" fill="#0e0e0c"/>
<circle cx="875.5" cy="1217.0" r="1.55" fill="#0e0e0c"/>
<circle cx="887.5" cy="1217.0" r="1.55" fill="#0e0e0c"/>
<circle cx="899.6" cy="1217.0" r="1.55" fill="#0e0e0c"/>
<circle cx="911.6" cy="1217.0" r="1.55" fill="#0e0e0c"/>
<circle cx="923.7" cy="1217.0" r="1.55" fill="#0e0e0c"/>
<circle cx="935.7" cy="1217.0" r="1.55" fill="#0e0e0c"/>
<circle cx="947.8" cy="1217.0" r="1.55" fill="#0e0e0c"/>
<circle cx="959.8" cy="1217.0" r="1.55" fill="#0e0e0c"/>
<circle cx="971.9" cy="1217.0" r="1.55" fill="#0e0e0c"/>
<circle cx="984.0" cy="1217.0" r="1.55" fill="#0e0e0c"/>
<circle cx="996.0" cy="1217.0" r="1.55" fill="#0e0e0c"/>
<circle cx="1008.1" cy="1217.0" r="1.55" fill="#0e0e0c"/>
<circle cx="1020.1" cy="1217.0" r="1.55" fill="#0e0e0c"/>
<circle cx="1032.2" cy="1217.0" r="1.55" fill="#0e0e0c"/>
<circle cx="1044.2" cy="1217.0" r="1.55" fill="#0e0e0c"/>
<circle cx="1056.3" cy="1217.0" r="1.55" fill="#0e0e0c"/>
<circle cx="1068.4" cy="1217.0" r="1.55" fill="#0e0e0c"/>
<circle cx="1080.4" cy="1217.0" r="1.55" fill="#0e0e0c"/>
<circle cx="1092.5" cy="1217.0" r="1.55" fill="#0e0e0c"/>
<circle cx="1104.5" cy="1217.0" r="1.55" fill="#0e0e0c"/>
<circle cx="1116.6" cy="1217.0" r="1.55" fill="#0e0e0c"/>
<circle cx="1128.6" cy="1217.0" r="1.55" fill="#0e0e0c"/>
<circle cx="1140.7" cy="1217.0" r="1.55" fill="#0e0e0c"/>
<circle cx="248.5" cy="1270.2" r="1.55" fill="#0e0e0c"/>
<circle cx="260.6" cy="1270.2" r="1.55" fill="#0e0e0c"/>
<circle cx="272.7" cy="1270.2" r="1.55" fill="#0e0e0c"/>
<circle cx="284.7" cy="1270.2" r="1.55" fill="#0e0e0c"/>
<circle cx="296.8" cy="1270.2" r="1.55" fill="#0e0e0c"/>
<circle cx="308.8" cy="1270.2" r="1.55" fill="#0e0e0c"/>
<circle cx="320.9" cy="1270.2" r="1.55" fill="#0e0e0c"/>
<circle cx="332.9" cy="1270.2" r="1.55" fill="#0e0e0c"/>
<circle cx="345.0" cy="1270.2" r="1.55" fill="#0e0e0c"/>
<circle cx="357.0" cy="1270.2" r="1.55" fill="#0e0e0c"/>
<circle cx="369.1" cy="1270.2" r="1.55" fill="#0e0e0c"/>
<circle cx="381.2" cy="1270.2" r="1.55" fill="#0e0e0c"/>
<circle cx="393.2" cy="1270.2" r="1.55" fill="#0e0e0c"/>
<circle cx="405.3" cy="1270.2" r="1.55" fill="#0e0e0c"/>
<circle cx="417.3" cy="1270.2" r="1.55" fill="#0e0e0c"/>
<circle cx="429.4" cy="1270.2" r="1.55" fill="#0e0e0c"/>
<circle cx="441.4" cy="1270.2" r="1.55" fill="#0e0e0c"/>
<circle cx="453.5" cy="1270.2" r="1.55" fill="#0e0e0c"/>
<circle cx="465.6" cy="1270.2" r="1.55" fill="#0e0e0c"/>
<circle cx="477.6" cy="1270.2" r="1.55" fill="#0e0e0c"/>
<circle cx="489.7" cy="1270.2" r="1.55" fill="#0e0e0c"/>
<circle cx="501.7" cy="1270.2" r="1.55" fill="#0e0e0c"/>
<circle cx="513.8" cy="1270.2" r="1.55" fill="#0e0e0c"/>
<circle cx="525.8" cy="1270.2" r="1.55" fill="#0e0e0c"/>
<circle cx="537.9" cy="1270.2" r="1.55" fill="#0e0e0c"/>
<circle cx="549.9" cy="1270.2" r="1.55" fill="#0e0e0c"/>
<circle cx="562.0" cy="1270.2" r="1.55" fill="#0e0e0c"/>
<circle cx="574.1" cy="1270.2" r="1.55" fill="#0e0e0c"/>
<circle cx="586.1" cy="1270.2" r="1.55" fill="#0e0e0c"/>
<circle cx="598.2" cy="1270.2" r="1.55" fill="#0e0e0c"/>
<circle cx="610.2" cy="1270.2" r="1.55" fill="#0e0e0c"/>
<circle cx="622.3" cy="1270.2" r="1.55" fill="#0e0e0c"/>
<circle cx="634.3" cy="1270.2" r="1.55" fill="#0e0e0c"/>
<circle cx="646.4" cy="1270.2" r="1.55" fill="#0e0e0c"/>
<circle cx="658.4" cy="1270.2" r="1.55" fill="#0e0e0c"/>
<circle cx="670.5" cy="1270.2" r="1.55" fill="#0e0e0c"/>
<circle cx="682.6" cy="1270.2" r="1.55" fill="#0e0e0c"/>
<circle cx="694.6" cy="1270.2" r="1.55" fill="#0e0e0c"/>
<circle cx="706.7" cy="1270.2" r="1.55" fill="#0e0e0c"/>
<circle cx="718.7" cy="1270.2" r="1.55" fill="#0e0e0c"/>
<circle cx="730.8" cy="1270.2" r="1.55" fill="#0e0e0c"/>
<circle cx="742.8" cy="1270.2" r="1.55" fill="#0e0e0c"/>
<circle cx="754.9" cy="1270.2" r="1.55" fill="#0e0e0c"/>
<circle cx="767.0" cy="1270.2" r="1.55" fill="#0e0e0c"/>
<circle cx="779.0" cy="1270.2" r="1.55" fill="#0e0e0c"/>
<circle cx="791.1" cy="1270.2" r="1.55" fill="#0e0e0c"/>
<circle cx="803.1" cy="1270.2" r="1.55" fill="#0e0e0c"/>
<circle cx="815.2" cy="1270.2" r="1.55" fill="#0e0e0c"/>
<circle cx="827.2" cy="1270.2" r="1.55" fill="#0e0e0c"/>
<circle cx="839.3" cy="1270.2" r="1.55" fill="#0e0e0c"/>
<circle cx="851.3" cy="1270.2" r="1.55" fill="#0e0e0c"/>
<circle cx="863.4" cy="1270.2" r="1.55" fill="#0e0e0c"/>
<circle cx="875.5" cy="1270.2" r="1.55" fill="#0e0e0c"/>
<circle cx="887.5" cy="1270.2" r="1.55" fill="#0e0e0c"/>
<circle cx="899.6" cy="1270.2" r="1.55" fill="#0e0e0c"/>
<circle cx="911.6" cy="1270.2" r="1.55" fill="#0e0e0c"/>
<circle cx="923.7" cy="1270.2" r="1.55" fill="#0e0e0c"/>
<circle cx="935.7" cy="1270.2" r="1.55" fill="#0e0e0c"/>
<circle cx="947.8" cy="1270.2" r="1.55" fill="#0e0e0c"/>
<circle cx="959.8" cy="1270.2" r="1.55" fill="#0e0e0c"/>
<circle cx="971.9" cy="1270.2" r="1.55" fill="#0e0e0c"/>
<circle cx="984.0" cy="1270.2" r="1.55" fill="#0e0e0c"/>
<circle cx="996.0" cy="1270.2" r="1.55" fill="#0e0e0c"/>
<circle cx="1008.1" cy="1270.2" r="1.55" fill="#0e0e0c"/>
<circle cx="1020.1" cy="1270.2" r="1.55" fill="#0e0e0c"/>
<circle cx="1032.2" cy="1270.2" r="1.55" fill="#0e0e0c"/>
<circle cx="1044.2" cy="1270.2" r="1.55" fill="#0e0e0c"/>
<circle cx="1056.3" cy="1270.2" r="1.55" fill="#0e0e0c"/>
<circle cx="1068.4" cy="1270.2" r="1.55" fill="#0e0e0c"/>
<circle cx="1080.4" cy="1270.2" r="1.55" fill="#0e0e0c"/>
<circle cx="1092.5" cy="1270.2" r="1.55" fill="#0e0e0c"/>
<circle cx="1104.5" cy="1270.2" r="1.55" fill="#0e0e0c"/>
<circle cx="1116.6" cy="1270.2" r="1.55" fill="#0e0e0c"/>
<circle cx="1128.6" cy="1270.2" r="1.55" fill="#0e0e0c"/>
<circle cx="1140.7" cy="1270.2" r="1.55" fill="#0e0e0c"/>
<circle cx="1152.7" cy="1270.2" r="1.55" fill="#0e0e0c"/>
<circle cx="1164.8" cy="1270.2" r="1.55" fill="#0e0e0c"/>
<circle cx="1176.9" cy="1270.2" r="1.55" fill="#0e0e0c"/>
<circle cx="1188.9" cy="1270.2" r="1.55" fill="#0e0e0c"/>
<circle cx="1201.0" cy="1270.2" r="1.55" fill="#0e0e0c"/>
<circle cx="393.2" cy="1323.4" r="1.55" fill="#0e0e0c"/>
<circle cx="405.3" cy="1323.4" r="1.55" fill="#0e0e0c"/>
<circle cx="417.3" cy="1323.4" r="1.55" fill="#0e0e0c"/>
<circle cx="429.4" cy="1323.4" r="1.55" fill="#0e0e0c"/>
<circle cx="441.4" cy="1323.4" r="1.55" fill="#0e0e0c"/>
<circle cx="453.5" cy="1323.4" r="1.55" fill="#0e0e0c"/>
<circle cx="465.6" cy="1323.4" r="1.55" fill="#0e0e0c"/>
<circle cx="477.6" cy="1323.4" r="1.55" fill="#0e0e0c"/>
<circle cx="489.7" cy="1323.4" r="1.55" fill="#0e0e0c"/>
<circle cx="501.7" cy="1323.4" r="1.55" fill="#0e0e0c"/>
<circle cx="513.8" cy="1323.4" r="1.55" fill="#0e0e0c"/>
<circle cx="525.8" cy="1323.4" r="1.55" fill="#0e0e0c"/>
<circle cx="537.9" cy="1323.4" r="1.55" fill="#0e0e0c"/>
<circle cx="549.9" cy="1323.4" r="1.55" fill="#0e0e0c"/>
<circle cx="562.0" cy="1323.4" r="1.55" fill="#0e0e0c"/>
<circle cx="574.1" cy="1323.4" r="1.55" fill="#0e0e0c"/>
<circle cx="586.1" cy="1323.4" r="1.55" fill="#0e0e0c"/>
<circle cx="598.2" cy="1323.4" r="1.55" fill="#0e0e0c"/>
<circle cx="610.2" cy="1323.4" r="1.55" fill="#0e0e0c"/>
<circle cx="622.3" cy="1323.4" r="1.55" fill="#0e0e0c"/>
<circle cx="634.3" cy="1323.4" r="1.55" fill="#0e0e0c"/>
<circle cx="646.4" cy="1323.4" r="1.55" fill="#0e0e0c"/>
<circle cx="658.4" cy="1323.4" r="1.55" fill="#0e0e0c"/>
<circle cx="670.5" cy="1323.4" r="1.55" fill="#0e0e0c"/>
<circle cx="682.6" cy="1323.4" r="1.55" fill="#0e0e0c"/>
<circle cx="694.6" cy="1323.4" r="1.55" fill="#0e0e0c"/>
<circle cx="706.7" cy="1323.4" r="1.55" fill="#0e0e0c"/>
<circle cx="718.7" cy="1323.4" r="1.55" fill="#0e0e0c"/>
<circle cx="730.8" cy="1323.4" r="1.55" fill="#0e0e0c"/>
<circle cx="742.8" cy="1323.4" r="1.55" fill="#0e0e0c"/>
<circle cx="754.9" cy="1323.4" r="1.55" fill="#0e0e0c"/>
<circle cx="767.0" cy="1323.4" r="1.55" fill="#0e0e0c"/>
<circle cx="779.0" cy="1323.4" r="1.55" fill="#0e0e0c"/>
<circle cx="791.1" cy="1323.4" r="1.55" fill="#0e0e0c"/>
<circle cx="803.1" cy="1323.4" r="1.55" fill="#0e0e0c"/>
<circle cx="815.2" cy="1323.4" r="1.55" fill="#0e0e0c"/>
<circle cx="827.2" cy="1323.4" r="1.55" fill="#0e0e0c"/>
<circle cx="839.3" cy="1323.4" r="1.55" fill="#0e0e0c"/>
<circle cx="851.3" cy="1323.4" r="1.55" fill="#0e0e0c"/>
<circle cx="863.4" cy="1323.4" r="1.55" fill="#0e0e0c"/>
<circle cx="875.5" cy="1323.4" r="1.55" fill="#0e0e0c"/>
<circle cx="887.5" cy="1323.4" r="1.55" fill="#0e0e0c"/>
<circle cx="899.6" cy="1323.4" r="1.55" fill="#0e0e0c"/>
<circle cx="911.6" cy="1323.4" r="1.55" fill="#0e0e0c"/>
<circle cx="923.7" cy="1323.4" r="1.55" fill="#0e0e0c"/>
<circle cx="935.7" cy="1323.4" r="1.55" fill="#0e0e0c"/>
<circle cx="947.8" cy="1323.4" r="1.55" fill="#0e0e0c"/>
<circle cx="959.8" cy="1323.4" r="1.55" fill="#0e0e0c"/>
<circle cx="971.9" cy="1323.4" r="1.55" fill="#0e0e0c"/>
<circle cx="984.0" cy="1323.4" r="1.55" fill="#0e0e0c"/>
<circle cx="996.0" cy="1323.4" r="1.55" fill="#0e0e0c"/>
<circle cx="1008.1" cy="1323.4" r="1.55" fill="#0e0e0c"/>
<circle cx="1020.1" cy="1323.4" r="1.55" fill="#0e0e0c"/>
<circle cx="1032.2" cy="1323.4" r="1.55" fill="#0e0e0c"/>
<circle cx="1044.2" cy="1323.4" r="1.55" fill="#0e0e0c"/>
<circle cx="1056.3" cy="1323.4" r="1.55" fill="#0e0e0c"/>
<circle cx="1068.4" cy="1323.4" r="1.55" fill="#0e0e0c"/>
<circle cx="1080.4" cy="1323.4" r="1.55" fill="#0e0e0c"/>
<circle cx="1092.5" cy="1323.4" r="1.55" fill="#0e0e0c"/>
</svg></body></html>
